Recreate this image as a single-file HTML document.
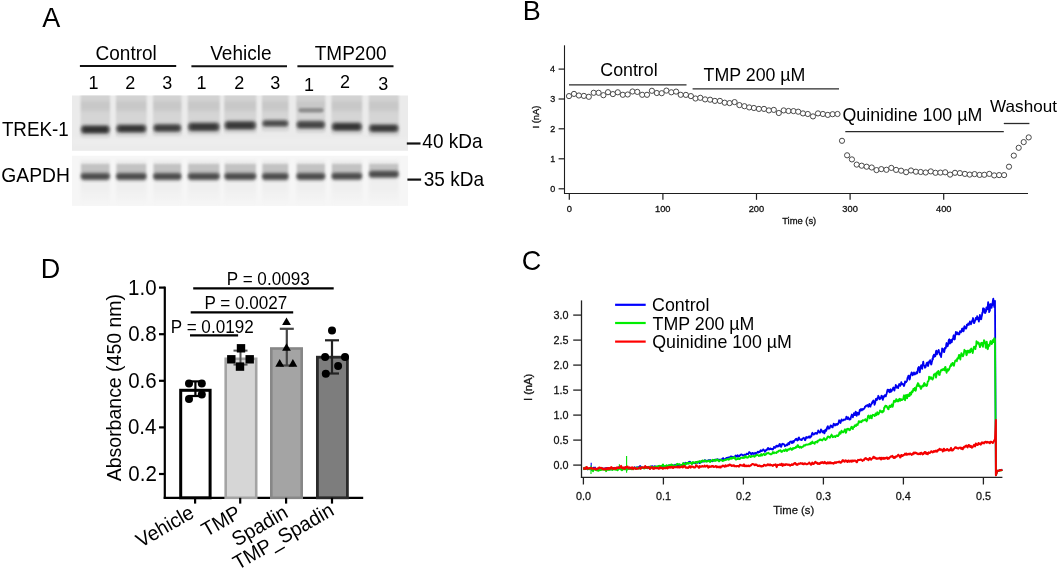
<!DOCTYPE html>
<html><head><meta charset="utf-8"><style>
html,body{margin:0;padding:0;background:#fff;}
svg{display:block;font-family:"Liberation Sans",sans-serif;will-change:transform;}
</style></head><body>
<svg width="1059" height="570" viewBox="0 0 1059 570">
<rect width="1059" height="570" fill="#fff"/>
<text transform="translate(42.25,27.00) scale(1,1.04)" font-size="27" fill="#000" >A</text>
<text transform="translate(522.79,20.10) scale(1,1.04)" font-size="27" fill="#000" >B</text>
<text transform="translate(521.83,270.00) scale(1,1.04)" font-size="27" fill="#000" >C</text>
<text transform="translate(40.79,278.00) scale(1,1.04)" font-size="27" fill="#000" >D</text>
<text transform="translate(95.54,60.20) scale(1,1.04)" font-size="19" fill="#000" >Control</text>
<text transform="translate(210.22,59.60) scale(1,1.04)" font-size="19" fill="#000" >Vehicle</text>
<text transform="translate(314.77,59.60) scale(1,1.04)" font-size="19" fill="#000" >TMP200</text>
<line x1="79.90" y1="66.00" x2="176.20" y2="66.00" stroke="#111" stroke-width="2" stroke-linecap="butt"/>
<line x1="191.40" y1="66.20" x2="287.00" y2="66.20" stroke="#111" stroke-width="2" stroke-linecap="butt"/>
<line x1="297.40" y1="66.20" x2="393.50" y2="66.20" stroke="#111" stroke-width="2" stroke-linecap="butt"/>
<text transform="translate(88.55,88.50) scale(1,1.04)" font-size="18" fill="#000" >1</text>
<text transform="translate(125.29,88.50) scale(1,1.04)" font-size="18" fill="#000" >2</text>
<text transform="translate(162.25,88.50) scale(1,1.04)" font-size="18" fill="#000" >3</text>
<text transform="translate(196.55,89.40) scale(1,1.04)" font-size="18" fill="#000" >1</text>
<text transform="translate(234.19,89.40) scale(1,1.04)" font-size="18" fill="#000" >2</text>
<text transform="translate(270.15,89.40) scale(1,1.04)" font-size="18" fill="#000" >3</text>
<text transform="translate(303.95,90.70) scale(1,1.04)" font-size="18" fill="#000" >1</text>
<text transform="translate(340.09,88.40) scale(1,1.04)" font-size="18" fill="#000" >2</text>
<text transform="translate(378.25,90.00) scale(1,1.04)" font-size="18" fill="#000" >3</text>
<text transform="translate(1.88,136.10) scale(1,1.04)" font-size="18.8" fill="#000" >TREK-1</text>
<text transform="translate(1.33,182.40) scale(1,1.04)" font-size="19.3" fill="#000" >GAPDH</text>
<text transform="translate(422.36,148.20) scale(1,1.04)" font-size="19.0" fill="#000" >40 kDa</text>
<text transform="translate(423.78,186.00) scale(1,1.04)" font-size="19.0" fill="#000" >35 kDa</text>
<defs><filter id="b1" x="-20%" y="-50%" width="140%" height="200%"><feGaussianBlur stdDeviation="1.35"/></filter><filter id="b2" x="-20%" y="-50%" width="140%" height="200%"><feGaussianBlur stdDeviation="1.8"/></filter><filter id="b3" x="-20%" y="-50%" width="140%" height="200%"><feGaussianBlur stdDeviation="0.8"/></filter><linearGradient id="lgU" gradientUnits="userSpaceOnUse" x1="0" y1="95" x2="0" y2="137"><stop offset="0" stop-color="#d4d4d4"/><stop offset="0.1" stop-color="#d2d2d2"/><stop offset="0.2" stop-color="#c8c8c8"/><stop offset="0.33" stop-color="#c9c9c9"/><stop offset="0.43" stop-color="#d4d4d4"/><stop offset="0.7" stop-color="#d6d6d6"/><stop offset="1" stop-color="#d2d2d2"/></linearGradient><linearGradient id="lgL" x1="0" y1="0" x2="0" y2="1"><stop offset="0" stop-color="#ededed"/><stop offset="0.6" stop-color="#efefef"/><stop offset="1" stop-color="#f6f6f6"/></linearGradient><clipPath id="cu"><rect x="72" y="95.5" width="336" height="55.3"/></clipPath><clipPath id="cl"><rect x="72" y="155.8" width="336" height="50"/></clipPath></defs>
<rect x="72" y="95.5" width="336" height="55.3" fill="#ebebeb"/>
<rect x="72" y="138" width="336" height="7" fill="#ededed" filter="url(#b2)" clip-path="url(#cu)"/>
<rect x="72" y="155.8" width="336" height="50" fill="#f6f6f6"/>
<defs><linearGradient id="bg0" x1="0" y1="0" x2="1" y2="0"><stop offset="0" stop-color="#5a5a5a"/><stop offset="0.12" stop-color="#303030"/><stop offset="0.88" stop-color="#303030"/><stop offset="1" stop-color="#5a5a5a"/></linearGradient><linearGradient id="bg1" x1="0" y1="0" x2="1" y2="0"><stop offset="0" stop-color="#5a5a5a"/><stop offset="0.12" stop-color="#363636"/><stop offset="0.88" stop-color="#363636"/><stop offset="1" stop-color="#5a5a5a"/></linearGradient><linearGradient id="bg2" x1="0" y1="0" x2="1" y2="0"><stop offset="0" stop-color="#5a5a5a"/><stop offset="0.12" stop-color="#3c3c3c"/><stop offset="0.88" stop-color="#3c3c3c"/><stop offset="1" stop-color="#5a5a5a"/></linearGradient><linearGradient id="bg3" x1="0" y1="0" x2="1" y2="0"><stop offset="0" stop-color="#5a5a5a"/><stop offset="0.12" stop-color="#383838"/><stop offset="0.88" stop-color="#383838"/><stop offset="1" stop-color="#5a5a5a"/></linearGradient><linearGradient id="bg4" x1="0" y1="0" x2="1" y2="0"><stop offset="0" stop-color="#5a5a5a"/><stop offset="0.12" stop-color="#383838"/><stop offset="0.88" stop-color="#383838"/><stop offset="1" stop-color="#5a5a5a"/></linearGradient><linearGradient id="bg5" x1="0" y1="0" x2="1" y2="0"><stop offset="0" stop-color="#5a5a5a"/><stop offset="0.12" stop-color="#4a4a4a"/><stop offset="0.88" stop-color="#4a4a4a"/><stop offset="1" stop-color="#5a5a5a"/></linearGradient><linearGradient id="bg6" x1="0" y1="0" x2="1" y2="0"><stop offset="0" stop-color="#5a5a5a"/><stop offset="0.12" stop-color="#444444"/><stop offset="0.88" stop-color="#444444"/><stop offset="1" stop-color="#5a5a5a"/></linearGradient><linearGradient id="bg7" x1="0" y1="0" x2="1" y2="0"><stop offset="0" stop-color="#5a5a5a"/><stop offset="0.12" stop-color="#343434"/><stop offset="0.88" stop-color="#343434"/><stop offset="1" stop-color="#5a5a5a"/></linearGradient><linearGradient id="bg8" x1="0" y1="0" x2="1" y2="0"><stop offset="0" stop-color="#5a5a5a"/><stop offset="0.12" stop-color="#383838"/><stop offset="0.88" stop-color="#383838"/><stop offset="1" stop-color="#5a5a5a"/></linearGradient></defs>
<g clip-path="url(#cu)">
<rect x="80.6" y="93" width="29.4" height="43.6" fill="url(#lgU)" filter="url(#b3)"/>
<rect x="81.6" y="131.6" width="27.4" height="6" fill="#dadada" filter="url(#b2)"/>
<rect x="116.0" y="93" width="30.6" height="42.6" fill="url(#lgU)" filter="url(#b3)"/>
<rect x="117.0" y="130.6" width="28.6" height="6" fill="#dadada" filter="url(#b2)"/>
<rect x="153.1" y="93" width="28.4" height="42.0" fill="url(#lgU)" filter="url(#b3)"/>
<rect x="154.1" y="130.0" width="26.4" height="6" fill="#dadada" filter="url(#b2)"/>
<rect x="187.8" y="93" width="32.0" height="40.9" fill="url(#lgU)" filter="url(#b3)"/>
<rect x="188.8" y="128.9" width="30.0" height="6" fill="#dadada" filter="url(#b2)"/>
<rect x="224.3" y="93" width="32.0" height="39.4" fill="url(#lgU)" filter="url(#b3)"/>
<rect x="225.3" y="127.4" width="30.0" height="6" fill="#dadada" filter="url(#b2)"/>
<rect x="262.0" y="93" width="26.6" height="37.4" fill="url(#lgU)" filter="url(#b3)"/>
<rect x="263.0" y="125.4" width="24.6" height="6" fill="#dadada" filter="url(#b2)"/>
<rect x="296.3" y="93" width="29.0" height="38.8" fill="url(#lgU)" filter="url(#b3)"/>
<rect x="297.3" y="126.8" width="27.0" height="6" fill="#dadada" filter="url(#b2)"/>
<rect x="331.5" y="93" width="30.7" height="40.7" fill="url(#lgU)" filter="url(#b3)"/>
<rect x="332.5" y="128.7" width="28.7" height="6" fill="#dadada" filter="url(#b2)"/>
<rect x="368.8" y="93" width="30.0" height="42.2" fill="url(#lgU)" filter="url(#b3)"/>
<rect x="369.8" y="130.2" width="28.0" height="6" fill="#dadada" filter="url(#b2)"/>
<rect x="298.5" y="108.0" width="25" height="4.6" rx="2.3" fill="#8e8e8e" filter="url(#b3)"/>
<rect x="80.8" y="124.6" width="29.0" height="10.0" rx="4" fill="#8a8a8a" opacity="0.55" filter="url(#b2)"/>
<rect x="81.2" y="126.1" width="28.2" height="7.0" rx="3" fill="url(#bg0)" filter="url(#b1)"/>
<rect x="116.2" y="123.7" width="30.2" height="9.8" rx="4" fill="#8a8a8a" opacity="0.55" filter="url(#b2)"/>
<rect x="116.6" y="125.2" width="29.4" height="6.8" rx="3" fill="url(#bg1)" filter="url(#b1)"/>
<rect x="153.3" y="123.3" width="28.0" height="9.4" rx="4" fill="#8a8a8a" opacity="0.55" filter="url(#b2)"/>
<rect x="153.7" y="124.8" width="27.2" height="6.4" rx="3" fill="url(#bg2)" filter="url(#b1)"/>
<rect x="188.0" y="121.8" width="31.6" height="10.2" rx="4" fill="#8a8a8a" opacity="0.55" filter="url(#b2)"/>
<rect x="188.4" y="123.3" width="30.8" height="7.2" rx="3" fill="url(#bg3)" filter="url(#b1)"/>
<rect x="224.5" y="120.3" width="31.6" height="10.2" rx="4" fill="#8a8a8a" opacity="0.55" filter="url(#b2)"/>
<rect x="224.9" y="121.8" width="30.8" height="7.2" rx="3" fill="url(#bg4)" filter="url(#b1)"/>
<rect x="262.2" y="119.2" width="26.2" height="8.4" rx="4" fill="#8a8a8a" opacity="0.55" filter="url(#b2)"/>
<rect x="262.6" y="120.7" width="25.4" height="5.4" rx="3" fill="url(#bg5)" filter="url(#b1)"/>
<rect x="296.5" y="120.1" width="28.6" height="9.4" rx="4" fill="#8a8a8a" opacity="0.55" filter="url(#b2)"/>
<rect x="296.9" y="121.6" width="27.8" height="6.4" rx="3" fill="url(#bg6)" filter="url(#b1)"/>
<rect x="331.7" y="121.7" width="30.3" height="10.0" rx="4" fill="#8a8a8a" opacity="0.55" filter="url(#b2)"/>
<rect x="332.1" y="123.2" width="29.5" height="7.0" rx="3" fill="url(#bg7)" filter="url(#b1)"/>
<rect x="369.0" y="123.4" width="29.6" height="9.6" rx="4" fill="#8a8a8a" opacity="0.55" filter="url(#b2)"/>
<rect x="369.4" y="124.9" width="28.8" height="6.6" rx="3" fill="url(#bg8)" filter="url(#b1)"/>
</g>
<g clip-path="url(#cl)">
<rect x="80.6" y="160" width="29.4" height="46" fill="url(#lgL)" filter="url(#b2)"/>
<rect x="81.1" y="163.8" width="28.4" height="12.6" fill="#c3c3c3" filter="url(#b3)"/>
<rect x="116.0" y="160" width="30.6" height="46" fill="url(#lgL)" filter="url(#b2)"/>
<rect x="116.5" y="163.8" width="29.6" height="12.8" fill="#c3c3c3" filter="url(#b3)"/>
<rect x="153.1" y="160" width="28.4" height="46" fill="url(#lgL)" filter="url(#b2)"/>
<rect x="153.6" y="163.8" width="27.4" height="12.8" fill="#c3c3c3" filter="url(#b3)"/>
<rect x="187.8" y="160" width="32.0" height="46" fill="url(#lgL)" filter="url(#b2)"/>
<rect x="188.3" y="163.8" width="31.0" height="12.6" fill="#c3c3c3" filter="url(#b3)"/>
<rect x="224.3" y="160" width="32.0" height="46" fill="url(#lgL)" filter="url(#b2)"/>
<rect x="224.8" y="163.8" width="31.0" height="12.6" fill="#c3c3c3" filter="url(#b3)"/>
<rect x="262.0" y="160" width="26.6" height="46" fill="url(#lgL)" filter="url(#b2)"/>
<rect x="262.5" y="163.8" width="25.6" height="12.8" fill="#c3c3c3" filter="url(#b3)"/>
<rect x="296.3" y="160" width="29.0" height="46" fill="url(#lgL)" filter="url(#b2)"/>
<rect x="296.8" y="163.8" width="28.0" height="12.6" fill="#c3c3c3" filter="url(#b3)"/>
<rect x="331.5" y="160" width="30.7" height="46" fill="url(#lgL)" filter="url(#b2)"/>
<rect x="332.0" y="163.8" width="29.7" height="12.4" fill="#c3c3c3" filter="url(#b3)"/>
<rect x="368.8" y="160" width="30.0" height="46" fill="url(#lgL)" filter="url(#b2)"/>
<rect x="369.3" y="163.8" width="29.0" height="10.4" fill="#c3c3c3" filter="url(#b3)"/>
<rect x="80.8" y="172.1" width="29.0" height="8.6" rx="3.5" fill="#8a8a8a" opacity="0.45" filter="url(#b2)"/>
<rect x="81.0" y="173.4" width="28.6" height="6.0" rx="2.8" fill="#4c4c4c" filter="url(#b1)"/>
<rect x="116.2" y="172.3" width="30.2" height="8.6" rx="3.5" fill="#8a8a8a" opacity="0.45" filter="url(#b2)"/>
<rect x="116.4" y="173.6" width="29.8" height="6.0" rx="2.8" fill="#4c4c4c" filter="url(#b1)"/>
<rect x="153.3" y="172.3" width="28.0" height="8.6" rx="3.5" fill="#8a8a8a" opacity="0.45" filter="url(#b2)"/>
<rect x="153.5" y="173.6" width="27.6" height="6.0" rx="2.8" fill="#4c4c4c" filter="url(#b1)"/>
<rect x="188.0" y="172.1" width="31.6" height="8.6" rx="3.5" fill="#8a8a8a" opacity="0.45" filter="url(#b2)"/>
<rect x="188.2" y="173.4" width="31.2" height="6.0" rx="2.8" fill="#4c4c4c" filter="url(#b1)"/>
<rect x="224.5" y="172.1" width="31.6" height="8.6" rx="3.5" fill="#8a8a8a" opacity="0.45" filter="url(#b2)"/>
<rect x="224.7" y="173.4" width="31.2" height="6.0" rx="2.8" fill="#4c4c4c" filter="url(#b1)"/>
<rect x="262.2" y="172.3" width="26.2" height="8.6" rx="3.5" fill="#8a8a8a" opacity="0.45" filter="url(#b2)"/>
<rect x="262.4" y="173.6" width="25.8" height="6.0" rx="2.8" fill="#4c4c4c" filter="url(#b1)"/>
<rect x="296.5" y="172.1" width="28.6" height="8.6" rx="3.5" fill="#8a8a8a" opacity="0.45" filter="url(#b2)"/>
<rect x="296.7" y="173.4" width="28.2" height="6.0" rx="2.8" fill="#4c4c4c" filter="url(#b1)"/>
<rect x="331.7" y="171.9" width="30.3" height="8.6" rx="3.5" fill="#8a8a8a" opacity="0.45" filter="url(#b2)"/>
<rect x="331.9" y="173.2" width="29.9" height="6.0" rx="2.8" fill="#4c4c4c" filter="url(#b1)"/>
<rect x="369.0" y="169.9" width="29.6" height="8.6" rx="3.5" fill="#8a8a8a" opacity="0.45" filter="url(#b2)"/>
<rect x="369.2" y="171.2" width="29.2" height="6.0" rx="2.8" fill="#4c4c4c" filter="url(#b1)"/>
</g>
<line x1="406.80" y1="143.50" x2="420.50" y2="143.50" stroke="#111" stroke-width="2.2" stroke-linecap="butt"/>
<line x1="407.40" y1="179.60" x2="421.10" y2="179.60" stroke="#111" stroke-width="2.2" stroke-linecap="butt"/>
<line x1="564.50" y1="45.30" x2="564.50" y2="194.00" stroke="#1e1e1e" stroke-width="1.1" stroke-linecap="butt"/>
<line x1="564.00" y1="193.50" x2="1028.00" y2="193.50" stroke="#1e1e1e" stroke-width="1.1" stroke-linecap="butt"/>
<line x1="558.60" y1="188.80" x2="564.50" y2="188.80" stroke="#1e1e1e" stroke-width="1.2" stroke-linecap="butt"/>
<text transform="translate(550.15,192.00) scale(1,1.04)" font-size="9.0" fill="#111" stroke="#111" stroke-width="0.3">0</text>
<line x1="558.60" y1="158.80" x2="564.50" y2="158.80" stroke="#1e1e1e" stroke-width="1.2" stroke-linecap="butt"/>
<text transform="translate(550.23,162.00) scale(1,1.04)" font-size="9.0" fill="#111" stroke="#111" stroke-width="0.3">1</text>
<line x1="558.60" y1="128.80" x2="564.50" y2="128.80" stroke="#1e1e1e" stroke-width="1.2" stroke-linecap="butt"/>
<text transform="translate(550.25,132.00) scale(1,1.04)" font-size="9.0" fill="#111" stroke="#111" stroke-width="0.3">2</text>
<line x1="558.60" y1="99.00" x2="564.50" y2="99.00" stroke="#1e1e1e" stroke-width="1.2" stroke-linecap="butt"/>
<text transform="translate(550.19,102.20) scale(1,1.04)" font-size="9.0" fill="#111" stroke="#111" stroke-width="0.3">3</text>
<line x1="558.60" y1="69.10" x2="564.50" y2="69.10" stroke="#1e1e1e" stroke-width="1.2" stroke-linecap="butt"/>
<text transform="translate(550.06,72.30) scale(1,1.04)" font-size="9.0" fill="#111" stroke="#111" stroke-width="0.3">4</text>
<line x1="569.30" y1="193.50" x2="569.30" y2="199.80" stroke="#1e1e1e" stroke-width="1.2" stroke-linecap="butt"/>
<text transform="translate(566.71,212.30) scale(1,1.04)" font-size="9.3" fill="#111" stroke="#111" stroke-width="0.3">0</text>
<line x1="662.90" y1="193.50" x2="662.90" y2="199.80" stroke="#1e1e1e" stroke-width="1.2" stroke-linecap="butt"/>
<text transform="translate(654.97,212.30) scale(1,1.04)" font-size="9.3" fill="#111" stroke="#111" stroke-width="0.3">100</text>
<line x1="756.50" y1="193.50" x2="756.50" y2="199.80" stroke="#1e1e1e" stroke-width="1.2" stroke-linecap="butt"/>
<text transform="translate(748.69,212.30) scale(1,1.04)" font-size="9.3" fill="#111" stroke="#111" stroke-width="0.3">200</text>
<line x1="850.10" y1="193.50" x2="850.10" y2="199.80" stroke="#1e1e1e" stroke-width="1.2" stroke-linecap="butt"/>
<text transform="translate(842.35,212.30) scale(1,1.04)" font-size="9.3" fill="#111" stroke="#111" stroke-width="0.3">300</text>
<line x1="943.70" y1="193.50" x2="943.70" y2="199.80" stroke="#1e1e1e" stroke-width="1.2" stroke-linecap="butt"/>
<text transform="translate(936.02,212.30) scale(1,1.04)" font-size="9.3" fill="#111" stroke="#111" stroke-width="0.3">400</text>
<text transform="translate(782.16,223.60) scale(1,1.04)" font-size="9.4" fill="#111" stroke="#111" stroke-width="0.3">Time (s)</text>
<text transform="translate(539.4,117) rotate(-90) scale(1,1.04)" text-anchor="middle" font-size="9.4" fill="#111" stroke="#111" stroke-width="0.3">I (nA)</text>
<line x1="569.00" y1="84.90" x2="686.50" y2="84.90" stroke="#2a2a2a" stroke-width="1.3" stroke-linecap="butt"/>
<line x1="692.60" y1="88.90" x2="839.00" y2="88.90" stroke="#2a2a2a" stroke-width="1.3" stroke-linecap="butt"/>
<line x1="845.30" y1="131.60" x2="1003.80" y2="131.60" stroke="#2a2a2a" stroke-width="1.3" stroke-linecap="butt"/>
<line x1="1003.80" y1="123.50" x2="1029.40" y2="123.50" stroke="#2a2a2a" stroke-width="1.3" stroke-linecap="butt"/>
<text transform="translate(600.30,75.90) scale(1,1.04)" font-size="17.8" fill="#000" >Control</text>
<text transform="translate(703.60,81.00) scale(1,1.04)" font-size="17.8" fill="#000" >TMP 200 µM</text>
<text transform="translate(842.46,120.50) scale(1,1.04)" font-size="17.8" fill="#000" >Quinidine 100 µM</text>
<text transform="translate(990.12,112.00) scale(1,0.94)" font-size="17.1" fill="#000" >Washout</text>
<g fill="#fff" stroke="#484848" stroke-width="1.0">
<circle cx="569.0" cy="96.1" r="2.6"/>
<circle cx="574.0" cy="93.9" r="2.6"/>
<circle cx="578.9" cy="95.5" r="2.6"/>
<circle cx="583.9" cy="95.9" r="2.6"/>
<circle cx="588.8" cy="96.8" r="2.6"/>
<circle cx="593.7" cy="92.8" r="2.6"/>
<circle cx="598.6" cy="92.8" r="2.6"/>
<circle cx="603.4" cy="95.2" r="2.6"/>
<circle cx="608.0" cy="92.2" r="2.6"/>
<circle cx="612.9" cy="94.1" r="2.6"/>
<circle cx="617.8" cy="92.3" r="2.6"/>
<circle cx="622.8" cy="94.8" r="2.6"/>
<circle cx="627.7" cy="94.5" r="2.6"/>
<circle cx="632.5" cy="91.5" r="2.6"/>
<circle cx="637.3" cy="91.9" r="2.6"/>
<circle cx="642.2" cy="94.8" r="2.6"/>
<circle cx="647.0" cy="94.8" r="2.6"/>
<circle cx="651.9" cy="90.8" r="2.6"/>
<circle cx="656.8" cy="93.0" r="2.6"/>
<circle cx="661.7" cy="93.2" r="2.6"/>
<circle cx="666.4" cy="90.6" r="2.6"/>
<circle cx="671.3" cy="92.3" r="2.6"/>
<circle cx="676.1" cy="91.6" r="2.6"/>
<circle cx="680.7" cy="94.8" r="2.6"/>
<circle cx="685.9" cy="94.9" r="2.6"/>
<circle cx="690.9" cy="96.1" r="2.6"/>
<circle cx="695.5" cy="98.5" r="2.6"/>
<circle cx="700.3" cy="97.8" r="2.6"/>
<circle cx="705.1" cy="99.4" r="2.6"/>
<circle cx="710.1" cy="99.7" r="2.6"/>
<circle cx="714.9" cy="100.9" r="2.6"/>
<circle cx="719.9" cy="100.9" r="2.6"/>
<circle cx="724.7" cy="102.7" r="2.6"/>
<circle cx="729.6" cy="103.1" r="2.6"/>
<circle cx="734.6" cy="102.1" r="2.6"/>
<circle cx="739.4" cy="105.1" r="2.6"/>
<circle cx="744.4" cy="106.2" r="2.6"/>
<circle cx="749.2" cy="107.4" r="2.6"/>
<circle cx="753.9" cy="108.0" r="2.6"/>
<circle cx="758.9" cy="108.9" r="2.6"/>
<circle cx="764.0" cy="108.9" r="2.6"/>
<circle cx="768.9" cy="110.4" r="2.6"/>
<circle cx="773.8" cy="109.9" r="2.6"/>
<circle cx="778.8" cy="113.0" r="2.6"/>
<circle cx="783.7" cy="110.4" r="2.6"/>
<circle cx="788.5" cy="111.0" r="2.6"/>
<circle cx="793.5" cy="111.1" r="2.6"/>
<circle cx="798.2" cy="111.7" r="2.6"/>
<circle cx="803.0" cy="113.4" r="2.6"/>
<circle cx="807.8" cy="114.0" r="2.6"/>
<circle cx="813.0" cy="116.4" r="2.6"/>
<circle cx="818.0" cy="113.4" r="2.6"/>
<circle cx="822.9" cy="114.0" r="2.6"/>
<circle cx="827.8" cy="114.9" r="2.6"/>
<circle cx="832.6" cy="114.2" r="2.6"/>
<circle cx="837.5" cy="114.0" r="2.6"/>
<circle cx="842.0" cy="140.8" r="2.6"/>
<circle cx="847.1" cy="155.3" r="2.6"/>
<circle cx="851.9" cy="159.4" r="2.6"/>
<circle cx="856.7" cy="164.6" r="2.6"/>
<circle cx="861.7" cy="165.7" r="2.6"/>
<circle cx="866.6" cy="166.7" r="2.6"/>
<circle cx="871.7" cy="167.5" r="2.6"/>
<circle cx="876.5" cy="170.1" r="2.6"/>
<circle cx="881.3" cy="169.1" r="2.6"/>
<circle cx="886.4" cy="169.8" r="2.6"/>
<circle cx="891.3" cy="167.9" r="2.6"/>
<circle cx="896.1" cy="169.9" r="2.6"/>
<circle cx="901.1" cy="170.7" r="2.6"/>
<circle cx="906.1" cy="172.2" r="2.6"/>
<circle cx="911.0" cy="170.5" r="2.6"/>
<circle cx="915.9" cy="171.7" r="2.6"/>
<circle cx="920.7" cy="172.0" r="2.6"/>
<circle cx="925.7" cy="172.5" r="2.6"/>
<circle cx="930.8" cy="171.4" r="2.6"/>
<circle cx="935.5" cy="172.8" r="2.6"/>
<circle cx="940.4" cy="172.6" r="2.6"/>
<circle cx="945.2" cy="172.3" r="2.6"/>
<circle cx="950.1" cy="174.6" r="2.6"/>
<circle cx="955.0" cy="172.8" r="2.6"/>
<circle cx="959.9" cy="173.1" r="2.6"/>
<circle cx="964.9" cy="173.9" r="2.6"/>
<circle cx="969.7" cy="174.6" r="2.6"/>
<circle cx="974.6" cy="174.1" r="2.6"/>
<circle cx="979.6" cy="174.9" r="2.6"/>
<circle cx="984.3" cy="174.8" r="2.6"/>
<circle cx="989.3" cy="173.9" r="2.6"/>
<circle cx="994.2" cy="175.4" r="2.6"/>
<circle cx="999.1" cy="175.1" r="2.6"/>
<circle cx="1004.1" cy="175.1" r="2.6"/>
<circle cx="1009.0" cy="166.7" r="2.6"/>
<circle cx="1013.8" cy="155.6" r="2.6"/>
<circle cx="1018.7" cy="147.8" r="2.6"/>
<circle cx="1023.7" cy="142.1" r="2.6"/>
<circle cx="1028.7" cy="137.4" r="2.6"/>
</g>
<line x1="581.50" y1="300.40" x2="581.50" y2="478.00" stroke="#222" stroke-width="1.3" stroke-linecap="butt"/>
<line x1="580.90" y1="477.40" x2="1002.40" y2="477.40" stroke="#222" stroke-width="1.3" stroke-linecap="butt"/>
<line x1="573.20" y1="465.10" x2="581.50" y2="465.10" stroke="#222" stroke-width="1.3" stroke-linecap="butt"/>
<text transform="translate(553.41,469.00) scale(1,1.04)" font-size="10.8" fill="#111" stroke="#111" stroke-width="0.25">0.0</text>
<line x1="573.20" y1="440.10" x2="581.50" y2="440.10" stroke="#222" stroke-width="1.3" stroke-linecap="butt"/>
<text transform="translate(553.44,444.00) scale(1,1.04)" font-size="10.8" fill="#111" stroke="#111" stroke-width="0.25">0.5</text>
<line x1="573.20" y1="415.10" x2="581.50" y2="415.10" stroke="#222" stroke-width="1.3" stroke-linecap="butt"/>
<text transform="translate(553.41,419.00) scale(1,1.04)" font-size="10.8" fill="#111" stroke="#111" stroke-width="0.25">1.0</text>
<line x1="573.20" y1="390.10" x2="581.50" y2="390.10" stroke="#222" stroke-width="1.3" stroke-linecap="butt"/>
<text transform="translate(553.44,394.00) scale(1,1.04)" font-size="10.8" fill="#111" stroke="#111" stroke-width="0.25">1.5</text>
<line x1="573.20" y1="365.10" x2="581.50" y2="365.10" stroke="#222" stroke-width="1.3" stroke-linecap="butt"/>
<text transform="translate(553.41,369.00) scale(1,1.04)" font-size="10.8" fill="#111" stroke="#111" stroke-width="0.25">2.0</text>
<line x1="573.20" y1="340.10" x2="581.50" y2="340.10" stroke="#222" stroke-width="1.3" stroke-linecap="butt"/>
<text transform="translate(553.44,344.00) scale(1,1.04)" font-size="10.8" fill="#111" stroke="#111" stroke-width="0.25">2.5</text>
<line x1="573.20" y1="315.10" x2="581.50" y2="315.10" stroke="#222" stroke-width="1.3" stroke-linecap="butt"/>
<text transform="translate(553.41,319.00) scale(1,1.04)" font-size="10.8" fill="#111" stroke="#111" stroke-width="0.25">3.0</text>
<line x1="583.40" y1="477.40" x2="583.40" y2="484.50" stroke="#222" stroke-width="1.3" stroke-linecap="butt"/>
<text transform="translate(575.89,499.80) scale(1,1.04)" font-size="10.8" fill="#111" stroke="#111" stroke-width="0.25">0.0</text>
<line x1="663.40" y1="477.40" x2="663.40" y2="484.50" stroke="#222" stroke-width="1.3" stroke-linecap="butt"/>
<text transform="translate(655.95,499.80) scale(1,1.04)" font-size="10.8" fill="#111" stroke="#111" stroke-width="0.25">0.1</text>
<line x1="743.40" y1="477.40" x2="743.40" y2="484.50" stroke="#222" stroke-width="1.3" stroke-linecap="butt"/>
<text transform="translate(735.95,499.80) scale(1,1.04)" font-size="10.8" fill="#111" stroke="#111" stroke-width="0.25">0.2</text>
<line x1="823.40" y1="477.40" x2="823.40" y2="484.50" stroke="#222" stroke-width="1.3" stroke-linecap="butt"/>
<text transform="translate(815.92,499.80) scale(1,1.04)" font-size="10.8" fill="#111" stroke="#111" stroke-width="0.25">0.3</text>
<line x1="903.40" y1="477.40" x2="903.40" y2="484.50" stroke="#222" stroke-width="1.3" stroke-linecap="butt"/>
<text transform="translate(895.84,499.80) scale(1,1.04)" font-size="10.8" fill="#111" stroke="#111" stroke-width="0.25">0.4</text>
<line x1="983.40" y1="477.40" x2="983.40" y2="484.50" stroke="#222" stroke-width="1.3" stroke-linecap="butt"/>
<text transform="translate(975.91,499.80) scale(1,1.04)" font-size="10.8" fill="#111" stroke="#111" stroke-width="0.25">0.5</text>
<text transform="translate(773.31,513.90) scale(1,1.04)" font-size="11.3" fill="#111" stroke="#111" stroke-width="0.25">Time (s)</text>
<text transform="translate(531.8,387.4) rotate(-90) scale(1,1.04)" text-anchor="middle" font-size="11.2" fill="#111" stroke="#111" stroke-width="0.3">I (nA)</text>
<line x1="615.10" y1="304.80" x2="645.70" y2="304.80" stroke="#0000ff" stroke-width="2.2" stroke-linecap="butt"/>
<line x1="615.10" y1="323.00" x2="645.70" y2="323.00" stroke="#00ee00" stroke-width="2.2" stroke-linecap="butt"/>
<line x1="615.10" y1="341.60" x2="645.70" y2="341.60" stroke="#ff0000" stroke-width="2.2" stroke-linecap="butt"/>
<text transform="translate(652.10,311.00) scale(1,1.04)" font-size="17.8" fill="#000" >Control</text>
<text transform="translate(652.60,329.50) scale(1,1.04)" font-size="17.8" fill="#000" >TMP 200 µM</text>
<text transform="translate(652.16,348.00) scale(1,1.04)" font-size="17.8" fill="#000" >Quinidine 100 µM</text>
<path d="M583.40,468.50 L583.74,468.40 L584.09,469.03 L584.43,469.04 L584.77,468.97 L585.12,468.60 L585.46,468.80 L585.80,468.81 L586.15,468.57 L586.49,468.70 L586.83,468.62 L587.18,468.86 L587.52,468.90 L587.86,469.26 L588.21,468.82 L588.55,468.75 L588.89,468.57 L589.24,468.78 L589.58,468.80 L589.92,468.77 L590.27,468.56 L590.61,468.17 L590.95,467.93 L591.30,468.63 L591.64,469.60 L591.98,470.11 L592.33,469.26 L592.67,468.56 L593.01,468.50 L593.36,467.68 L593.70,468.23 L594.04,468.36 L594.39,468.41 L594.73,467.81 L595.07,467.54 L595.42,468.42 L595.76,469.41 L596.10,469.71 L596.44,469.43 L596.79,469.30 L597.13,469.57 L597.47,469.58 L597.82,469.68 L598.16,469.59 L598.50,469.30 L598.85,468.96 L599.19,468.87 L599.53,468.48 L599.88,468.20 L600.22,467.98 L600.56,468.43 L600.91,468.67 L601.25,468.84 L601.59,468.17 L601.94,468.81 L602.28,468.30 L602.62,468.63 L602.97,468.60 L603.31,469.01 L603.65,468.98 L604.00,468.47 L604.34,468.56 L604.68,468.66 L605.03,468.84 L605.37,468.60 L605.71,468.11 L606.06,467.96 L606.40,468.34 L606.74,468.23 L607.09,468.29 L607.43,467.99 L607.77,468.42 L608.12,468.78 L608.46,468.82 L608.80,468.18 L609.15,468.42 L609.49,468.85 L609.83,469.24 L610.18,469.29 L610.52,468.60 L610.86,468.43 L611.21,468.71 L611.55,469.37 L611.89,469.28 L612.24,468.46 L612.58,468.17 L612.92,468.36 L613.27,468.55 L613.61,468.06 L613.95,467.81 L614.30,467.90 L614.64,468.10 L614.98,468.42 L615.33,468.30 L615.67,468.80 L616.01,468.74 L616.36,469.10 L616.70,468.76 L617.04,468.36 L617.39,468.53 L617.73,467.75 L618.07,467.88 L618.42,467.51 L618.76,467.25 L619.10,466.97 L619.45,467.59 L619.79,468.52 L620.13,468.14 L620.47,467.71 L620.82,467.47 L621.16,468.10 L621.50,468.38 L621.85,467.93 L622.19,467.92 L622.53,467.78 L622.88,468.32 L623.22,468.17 L623.56,468.44 L623.91,467.99 L624.25,467.65 L624.59,467.85 L624.94,468.93 L625.28,469.23 L625.62,468.15 L625.97,467.83 L626.31,468.41 L626.65,469.00 L627.00,468.83 L627.34,468.60 L627.68,468.90 L628.03,468.47 L628.37,468.41 L628.71,468.18 L629.06,468.37 L629.40,468.62 L629.74,468.70 L630.09,468.78 L630.43,468.43 L630.77,468.81 L631.12,468.91 L631.46,468.41 L631.80,468.02 L632.15,467.82 L632.49,467.96 L632.83,468.13 L633.18,468.07 L633.52,467.91 L633.86,467.59 L634.21,467.63 L634.55,467.25 L634.89,467.54 L635.24,467.61 L635.58,468.18 L635.92,468.18 L636.27,467.30 L636.61,467.39 L636.95,467.26 L637.30,468.38 L637.64,467.88 L637.98,467.70 L638.33,467.10 L638.67,467.26 L639.01,467.46 L639.36,466.98 L639.70,466.51 L640.04,466.02 L640.39,466.31 L640.73,466.73 L641.07,467.41 L641.42,467.52 L641.76,467.28 L642.10,467.33 L642.45,467.33 L642.79,467.93 L643.13,467.70 L643.48,467.89 L643.82,467.79 L644.16,467.70 L644.50,467.18 L644.85,466.78 L645.19,466.93 L645.53,467.64 L645.88,466.91 L646.22,466.89 L646.56,466.86 L646.91,468.05 L647.25,468.13 L647.59,468.34 L647.94,468.05 L648.28,468.19 L648.62,467.05 L648.97,466.81 L649.31,467.29 L649.65,467.80 L650.00,468.61 L650.34,467.36 L650.68,467.07 L651.03,466.33 L651.37,467.13 L651.71,466.59 L652.06,466.24 L652.40,466.12 L652.74,466.64 L653.09,467.40 L653.43,466.93 L653.77,467.32 L654.12,466.41 L654.46,466.62 L654.80,466.25 L655.15,466.60 L655.49,466.53 L655.83,466.57 L656.18,466.83 L656.52,466.64 L656.86,466.87 L657.21,466.87 L657.55,466.73 L657.89,466.46 L658.24,466.28 L658.58,466.31 L658.92,465.96 L659.27,466.35 L659.61,466.17 L659.95,466.55 L660.30,466.66 L660.64,467.09 L660.98,466.75 L661.33,466.93 L661.67,466.77 L662.01,466.90 L662.36,466.41 L662.70,466.23 L663.04,466.94 L663.39,466.92 L663.73,466.68 L664.07,466.48 L664.42,466.34 L664.76,466.50 L665.10,466.46 L665.45,466.78 L665.79,466.69 L666.13,466.22 L666.48,466.93 L666.82,466.21 L667.16,466.21 L667.51,466.09 L667.85,466.30 L668.19,466.22 L668.53,465.46 L668.88,465.79 L669.22,465.56 L669.56,465.46 L669.91,465.57 L670.25,465.28 L670.59,465.48 L670.94,465.44 L671.28,465.60 L671.62,465.33 L671.97,465.05 L672.31,465.16 L672.65,465.07 L673.00,465.60 L673.34,465.78 L673.68,465.92 L674.03,465.72 L674.37,465.38 L674.71,465.46 L675.06,464.67 L675.40,465.03 L675.74,465.23 L676.09,465.43 L676.43,465.91 L676.77,464.77 L677.12,465.13 L677.46,464.46 L677.80,465.01 L678.15,464.84 L678.49,465.14 L678.83,465.27 L679.18,464.92 L679.52,464.43 L679.86,464.79 L680.21,465.01 L680.55,465.18 L680.89,465.08 L681.24,465.04 L681.58,464.94 L681.92,465.35 L682.27,465.40 L682.61,465.27 L682.95,464.36 L683.30,463.98 L683.64,463.24 L683.98,463.45 L684.33,463.48 L684.67,463.91 L685.01,463.55 L685.36,463.00 L685.70,462.73 L686.04,463.15 L686.39,463.71 L686.73,463.64 L687.07,463.61 L687.42,463.36 L687.76,463.10 L688.10,462.50 L688.45,462.38 L688.79,461.90 L689.13,461.95 L689.48,461.95 L689.82,461.61 L690.16,462.04 L690.51,462.19 L690.85,462.77 L691.19,462.67 L691.54,463.02 L691.88,463.17 L692.22,463.78 L692.56,462.76 L692.91,462.79 L693.25,462.48 L693.59,463.20 L693.94,463.22 L694.28,463.18 L694.62,463.13 L694.97,463.34 L695.31,463.23 L695.65,463.03 L696.00,462.45 L696.34,461.96 L696.68,461.80 L697.03,461.88 L697.37,462.80 L697.71,462.55 L698.06,462.69 L698.40,462.05 L698.74,461.64 L699.09,462.34 L699.43,462.41 L699.77,463.15 L700.12,462.08 L700.46,462.35 L700.80,461.95 L701.15,462.15 L701.49,461.31 L701.83,460.95 L702.18,461.38 L702.52,461.72 L702.86,461.26 L703.21,461.04 L703.55,461.41 L703.89,461.52 L704.24,461.10 L704.58,460.21 L704.92,460.73 L705.27,460.51 L705.61,461.26 L705.95,460.89 L706.30,461.28 L706.64,460.83 L706.98,460.61 L707.33,460.55 L707.67,460.75 L708.01,460.98 L708.36,460.28 L708.70,460.12 L709.04,460.67 L709.39,461.06 L709.73,460.92 L710.07,459.83 L710.42,460.58 L710.76,460.88 L711.10,461.11 L711.45,461.03 L711.79,461.22 L712.13,461.36 L712.48,460.41 L712.82,460.46 L713.16,460.44 L713.51,460.63 L713.85,459.84 L714.19,459.98 L714.54,459.71 L714.88,460.29 L715.22,460.05 L715.57,460.44 L715.91,459.81 L716.25,459.44 L716.59,459.60 L716.94,459.74 L717.28,459.58 L717.62,459.24 L717.97,459.41 L718.31,459.71 L718.65,460.40 L719.00,460.19 L719.34,460.02 L719.68,459.71 L720.03,459.58 L720.37,459.99 L720.71,459.79 L721.06,460.38 L721.40,459.26 L721.74,459.51 L722.09,459.14 L722.43,459.36 L722.77,458.38 L723.12,458.06 L723.46,458.91 L723.80,459.85 L724.15,459.83 L724.49,459.93 L724.83,459.15 L725.18,459.67 L725.52,458.83 L725.86,458.36 L726.21,458.04 L726.55,457.97 L726.89,458.23 L727.24,457.62 L727.58,457.88 L727.92,457.93 L728.27,457.68 L728.61,457.43 L728.95,457.36 L729.30,457.24 L729.64,457.50 L729.98,457.08 L730.33,457.37 L730.67,456.55 L731.01,456.86 L731.36,456.50 L731.70,456.75 L732.04,456.61 L732.39,457.38 L732.73,457.26 L733.07,456.92 L733.42,456.91 L733.76,457.52 L734.10,457.59 L734.45,457.38 L734.79,456.72 L735.13,456.13 L735.48,455.54 L735.82,455.97 L736.16,456.55 L736.51,456.72 L736.85,456.37 L737.19,455.38 L737.54,455.12 L737.88,455.47 L738.22,456.04 L738.57,456.43 L738.91,456.43 L739.25,456.35 L739.60,456.04 L739.94,455.16 L740.28,455.20 L740.63,454.69 L740.97,454.54 L741.31,454.46 L741.65,454.35 L742.00,454.76 L742.34,454.87 L742.68,455.46 L743.03,455.63 L743.37,455.45 L743.71,455.42 L744.06,455.09 L744.40,454.65 L744.74,454.76 L745.09,454.78 L745.43,455.33 L745.77,454.93 L746.12,454.57 L746.46,453.75 L746.80,453.57 L747.15,453.72 L747.49,454.02 L747.83,454.20 L748.18,454.23 L748.52,453.30 L748.86,452.88 L749.21,452.00 L749.55,452.61 L749.89,452.38 L750.24,452.93 L750.58,452.95 L750.92,453.70 L751.27,454.69 L751.61,454.60 L751.95,453.75 L752.30,453.01 L752.64,452.82 L752.98,453.40 L753.33,453.20 L753.67,453.95 L754.01,453.70 L754.36,453.79 L754.70,453.54 L755.04,452.81 L755.39,453.54 L755.73,453.13 L756.07,454.25 L756.42,453.34 L756.76,453.11 L757.10,452.35 L757.45,452.39 L757.79,451.71 L758.13,452.20 L758.48,452.53 L758.82,451.84 L759.16,451.69 L759.51,451.65 L759.85,452.12 L760.19,450.95 L760.54,450.37 L760.88,450.19 L761.22,451.09 L761.57,450.64 L761.91,450.72 L762.25,450.86 L762.60,450.54 L762.94,449.81 L763.28,449.33 L763.63,449.80 L763.97,450.02 L764.31,450.21 L764.66,451.03 L765.00,451.80 L765.34,451.39 L765.68,450.84 L766.03,449.93 L766.37,449.70 L766.71,450.00 L767.06,449.94 L767.40,449.19 L767.74,448.28 L768.09,447.97 L768.43,448.70 L768.77,448.87 L769.12,449.56 L769.46,448.99 L769.80,449.27 L770.15,448.43 L770.49,448.41 L770.83,448.85 L771.18,449.29 L771.52,448.99 L771.86,448.80 L772.21,449.00 L772.55,449.48 L772.89,449.51 L773.24,448.87 L773.58,448.10 L773.92,446.88 L774.27,447.09 L774.61,447.67 L774.95,447.76 L775.30,447.83 L775.64,447.26 L775.98,446.65 L776.33,445.64 L776.67,446.18 L777.01,446.46 L777.36,446.65 L777.70,445.59 L778.04,445.60 L778.39,446.16 L778.73,446.35 L779.07,445.56 L779.42,444.20 L779.76,443.89 L780.10,444.30 L780.45,445.43 L780.79,446.35 L781.13,446.91 L781.48,446.08 L781.82,444.92 L782.16,443.89 L782.51,444.09 L782.85,443.71 L783.19,444.10 L783.54,444.22 L783.88,444.31 L784.22,444.44 L784.57,445.32 L784.91,446.23 L785.25,445.62 L785.60,445.64 L785.94,445.23 L786.28,445.39 L786.63,444.49 L786.97,445.02 L787.31,445.23 L787.66,444.79 L788.00,443.64 L788.34,443.03 L788.69,443.58 L789.03,444.31 L789.37,443.98 L789.71,442.21 L790.06,441.69 L790.40,441.70 L790.74,441.50 L791.09,441.40 L791.43,441.62 L791.77,442.93 L792.12,443.04 L792.46,441.70 L792.80,441.53 L793.15,440.96 L793.49,442.49 L793.83,441.82 L794.18,441.18 L794.52,440.57 L794.86,440.13 L795.21,439.91 L795.55,439.38 L795.89,438.91 L796.24,438.72 L796.58,438.93 L796.92,440.05 L797.27,440.61 L797.61,440.29 L797.95,440.23 L798.30,438.48 L798.64,437.53 L798.98,437.46 L799.33,438.87 L799.67,438.89 L800.01,439.59 L800.36,439.59 L800.70,439.82 L801.04,439.35 L801.39,439.50 L801.73,440.18 L802.07,439.23 L802.42,438.79 L802.76,438.38 L803.10,438.46 L803.45,438.15 L803.79,437.77 L804.13,438.45 L804.48,438.88 L804.82,440.13 L805.16,440.27 L805.51,439.66 L805.85,438.12 L806.19,437.14 L806.54,436.93 L806.88,437.68 L807.22,437.82 L807.57,437.57 L807.91,437.13 L808.25,437.54 L808.60,437.22 L808.94,436.43 L809.28,436.55 L809.63,436.35 L809.97,437.73 L810.31,436.44 L810.66,436.75 L811.00,436.45 L811.34,436.53 L811.69,434.80 L812.03,433.53 L812.37,432.80 L812.72,433.33 L813.06,434.31 L813.40,434.45 L813.74,434.67 L814.09,434.31 L814.43,434.06 L814.77,433.48 L815.12,432.99 L815.46,432.96 L815.80,433.50 L816.15,432.92 L816.49,433.77 L816.83,432.87 L817.18,433.69 L817.52,432.27 L817.86,432.14 L818.21,430.39 L818.55,431.50 L818.89,431.73 L819.24,431.66 L819.58,432.65 L819.92,432.66 L820.27,432.46 L820.61,430.72 L820.95,429.38 L821.30,430.31 L821.64,430.26 L821.98,431.06 L822.33,431.39 L822.67,432.36 L823.01,432.18 L823.36,431.57 L823.70,430.86 L824.04,432.38 L824.39,433.33 L824.73,432.76 L825.07,430.54 L825.42,429.69 L825.76,429.63 L826.10,430.94 L826.45,429.45 L826.79,429.70 L827.13,427.12 L827.48,427.20 L827.82,426.19 L828.16,427.22 L828.51,427.91 L828.85,428.73 L829.19,428.38 L829.54,428.42 L829.88,427.15 L830.22,426.68 L830.57,425.42 L830.91,425.66 L831.25,425.61 L831.60,426.77 L831.94,426.69 L832.28,427.30 L832.63,427.43 L832.97,426.02 L833.31,425.18 L833.66,423.71 L834.00,423.95 L834.34,424.24 L834.69,424.90 L835.03,425.51 L835.37,425.22 L835.72,424.25 L836.06,424.18 L836.40,424.00 L836.75,424.91 L837.09,424.13 L837.43,424.80 L837.77,423.66 L838.12,424.11 L838.46,422.91 L838.80,421.65 L839.15,420.26 L839.49,420.65 L839.83,421.55 L840.18,422.37 L840.52,422.96 L840.86,421.85 L841.21,420.68 L841.55,419.38 L841.89,419.85 L842.24,420.59 L842.58,420.54 L842.92,420.60 L843.27,420.29 L843.61,420.10 L843.95,419.42 L844.30,419.82 L844.64,419.67 L844.98,419.59 L845.33,419.68 L845.67,419.15 L846.01,418.39 L846.36,416.56 L846.70,417.39 L847.04,418.52 L847.39,419.09 L847.73,417.77 L848.07,417.20 L848.42,418.27 L848.76,418.70 L849.10,419.41 L849.45,418.60 L849.79,419.67 L850.13,418.56 L850.48,419.26 L850.82,417.69 L851.16,416.41 L851.51,415.46 L851.85,414.53 L852.19,415.80 L852.54,415.93 L852.88,417.32 L853.22,415.91 L853.57,415.30 L853.91,413.13 L854.25,414.29 L854.60,414.12 L854.94,415.12 L855.28,413.19 L855.63,411.66 L855.97,412.10 L856.31,413.69 L856.66,415.91 L857.00,414.27 L857.34,413.64 L857.69,412.68 L858.03,413.05 L858.37,414.37 L858.72,414.69 L859.06,414.14 L859.40,411.96 L859.75,409.95 L860.09,410.90 L860.43,410.47 L860.78,409.07 L861.12,409.02 L861.46,409.21 L861.81,410.40 L862.15,409.30 L862.49,409.28 L862.83,408.96 L863.18,409.44 L863.52,409.03 L863.86,409.16 L864.21,408.57 L864.55,408.12 L864.89,406.68 L865.24,406.48 L865.58,406.77 L865.92,405.92 L866.27,405.48 L866.61,405.79 L866.95,405.68 L867.30,405.51 L867.64,405.02 L867.98,405.42 L868.33,406.80 L868.67,406.36 L869.01,405.64 L869.36,403.98 L869.70,405.20 L870.04,405.79 L870.39,406.69 L870.73,405.20 L871.07,404.66 L871.42,404.36 L871.76,402.96 L872.10,403.35 L872.45,401.76 L872.79,401.94 L873.13,400.76 L873.48,400.51 L873.82,402.02 L874.16,402.58 L874.51,404.77 L874.85,403.91 L875.19,402.80 L875.54,400.55 L875.88,398.88 L876.22,399.30 L876.57,399.47 L876.91,400.17 L877.25,398.65 L877.60,397.55 L877.94,397.85 L878.28,395.78 L878.63,396.99 L878.97,396.91 L879.31,399.24 L879.66,398.74 L880.00,398.15 L880.34,398.84 L880.69,397.63 L881.03,397.93 L881.37,395.96 L881.72,395.62 L882.06,396.31 L882.40,398.01 L882.75,399.91 L883.09,398.71 L883.43,397.66 L883.78,396.18 L884.12,396.85 L884.46,396.19 L884.81,395.14 L885.15,395.20 L885.49,395.43 L885.84,396.34 L886.18,394.53 L886.52,394.20 L886.86,392.66 L887.21,391.01 L887.55,389.74 L887.89,391.44 L888.24,390.11 L888.58,390.08 L888.92,389.78 L889.27,391.76 L889.61,392.21 L889.95,390.17 L890.30,389.70 L890.64,389.19 L890.98,391.84 L891.33,390.75 L891.67,391.16 L892.01,389.98 L892.36,389.83 L892.70,389.62 L893.04,388.03 L893.39,387.52 L893.73,388.33 L894.07,388.79 L894.42,390.53 L894.76,388.78 L895.10,387.46 L895.45,386.82 L895.79,384.96 L896.13,385.99 L896.48,385.85 L896.82,387.72 L897.16,386.84 L897.51,386.85 L897.85,386.39 L898.19,388.17 L898.54,385.60 L898.88,385.12 L899.22,384.04 L899.57,384.35 L899.91,385.71 L900.25,385.79 L900.60,384.97 L900.94,384.11 L901.28,382.14 L901.63,383.21 L901.97,383.42 L902.31,384.35 L902.66,384.20 L903.00,384.05 L903.34,384.69 L903.69,385.31 L904.03,386.04 L904.37,384.89 L904.72,383.52 L905.06,381.35 L905.40,382.66 L905.75,381.69 L906.09,382.17 L906.43,381.52 L906.78,381.32 L907.12,380.25 L907.46,378.17 L907.81,377.15 L908.15,376.43 L908.49,375.57 L908.84,375.94 L909.18,378.09 L909.52,379.51 L909.87,378.76 L910.21,376.85 L910.55,375.09 L910.89,374.38 L911.24,373.83 L911.58,372.48 L911.92,373.89 L912.27,373.05 L912.61,375.32 L912.95,374.59 L913.30,374.44 L913.64,374.10 L913.98,372.42 L914.33,374.25 L914.67,373.14 L915.01,374.47 L915.36,373.63 L915.70,373.49 L916.04,373.53 L916.39,372.16 L916.73,373.52 L917.07,373.25 L917.42,372.55 L917.76,370.02 L918.10,367.88 L918.45,368.32 L918.79,366.94 L919.13,368.82 L919.48,369.62 L919.82,372.30 L920.16,369.46 L920.51,368.30 L920.85,366.00 L921.19,365.16 L921.54,365.80 L921.88,367.29 L922.22,368.81 L922.57,366.12 L922.91,363.61 L923.25,361.55 L923.60,364.13 L923.94,365.35 L924.28,365.89 L924.63,365.67 L924.97,367.77 L925.31,367.38 L925.66,367.09 L926.00,364.77 L926.34,364.61 L926.69,362.96 L927.03,363.14 L927.37,362.53 L927.72,365.49 L928.06,366.00 L928.40,364.44 L928.75,363.03 L929.09,361.45 L929.43,361.83 L929.78,361.47 L930.12,360.10 L930.46,362.58 L930.81,363.28 L931.15,364.57 L931.49,364.09 L931.84,361.89 L932.18,361.00 L932.52,358.46 L932.87,359.31 L933.21,355.96 L933.55,356.59 L933.90,354.66 L934.24,356.76 L934.58,356.01 L934.92,356.16 L935.27,356.25 L935.61,353.95 L935.95,351.67 L936.30,350.60 L936.64,352.47 L936.98,354.25 L937.33,352.67 L937.67,352.35 L938.01,350.91 L938.36,352.25 L938.70,350.00 L939.04,351.32 L939.39,352.31 L939.73,354.31 L940.07,353.39 L940.42,355.65 L940.76,354.64 L941.10,357.05 L941.45,353.70 L941.79,352.75 L942.13,348.41 L942.48,349.71 L942.82,348.75 L943.16,350.03 L943.51,349.88 L943.85,351.95 L944.19,352.09 L944.54,350.46 L944.88,347.88 L945.22,348.59 L945.57,348.48 L945.91,347.70 L946.25,344.51 L946.60,343.02 L946.94,345.29 L947.28,344.42 L947.63,346.40 L947.97,345.07 L948.31,344.21 L948.66,340.54 L949.00,339.62 L949.34,339.28 L949.69,341.93 L950.03,343.48 L950.37,342.48 L950.72,340.79 L951.06,339.96 L951.40,342.45 L951.75,342.21 L952.09,340.53 L952.43,339.08 L952.78,339.27 L953.12,337.70 L953.46,335.88 L953.81,335.21 L954.15,338.76 L954.49,339.45 L954.84,339.06 L955.18,335.62 L955.52,334.87 L955.87,331.80 L956.21,334.34 L956.55,333.13 L956.90,333.80 L957.24,332.42 L957.58,332.70 L957.93,334.35 L958.27,333.41 L958.61,333.45 L958.95,333.64 L959.30,334.37 L959.64,332.43 L959.98,331.15 L960.33,331.41 L960.67,331.34 L961.01,332.35 L961.36,330.74 L961.70,330.35 L962.04,328.65 L962.39,330.83 L962.73,328.53 L963.07,331.46 L963.42,329.86 L963.76,330.96 L964.10,327.21 L964.45,326.21 L964.79,326.62 L965.13,327.20 L965.48,328.47 L965.82,327.99 L966.16,328.44 L966.51,327.68 L966.85,324.53 L967.19,325.66 L967.54,324.78 L967.88,324.84 L968.22,323.43 L968.57,323.65 L968.91,324.82 L969.25,323.39 L969.60,323.27 L969.94,321.39 L970.28,322.91 L970.63,322.69 L970.97,324.29 L971.31,323.36 L971.66,322.26 L972.00,321.19 L972.34,320.09 L972.69,320.51 L973.03,318.03 L973.37,319.70 L973.72,322.03 L974.06,323.16 L974.40,322.70 L974.75,321.73 L975.09,320.59 L975.43,319.95 L975.78,317.83 L976.12,319.24 L976.46,318.61 L976.81,319.25 L977.15,316.12 L977.49,316.94 L977.84,317.39 L978.18,318.97 L978.52,320.28 L978.87,321.55 L979.21,318.97 L979.55,318.33 L979.90,314.83 L980.24,318.28 L980.58,316.25 L980.93,319.28 L981.27,319.17 L981.61,316.64 L981.96,315.71 L982.30,312.66 L982.64,312.96 L982.98,308.48 L983.33,309.99 L983.67,308.36 L984.01,309.73 L984.36,309.07 L984.70,312.87 L985.04,311.80 L985.39,312.96 L985.73,310.95 L986.07,311.43 L986.42,307.44 L986.76,307.48 L987.10,307.75 L987.45,309.36 L987.79,305.94 L988.13,302.23 L988.48,304.37 L988.82,304.40 L989.16,312.14 L989.51,308.68 L989.85,310.97 L990.19,304.41 L990.54,304.30 L990.88,304.00 L991.22,307.06 L991.57,307.79 L991.91,305.83 L992.25,305.14 L992.60,302.84 L992.94,300.50 L993.28,298.59 L993.63,301.35 L993.97,305.09 L994.31,307.03 L994.66,303.50 L995.00,300.97 L995.90,475.30 L997.10,471.50 L997.10,470.95 L997.98,471.17 L998.87,470.62 L999.75,470.25 L1000.63,469.79 L1001.52,469.97 L1002.40,469.62" fill="none" stroke="#0000f0" stroke-width="1.8" stroke-linejoin="round"/>
<line x1="591.20" y1="462.70" x2="591.20" y2="470.30" stroke="#0000f0" stroke-width="1.1" stroke-linecap="butt"/>
<path d="M583.40,468.27 L583.74,468.38 L584.09,469.27 L584.43,468.54 L584.77,468.15 L585.12,467.55 L585.46,467.91 L585.80,468.24 L586.15,468.27 L586.49,468.34 L586.83,468.59 L587.18,468.61 L587.52,469.24 L587.86,468.85 L588.21,468.96 L588.55,468.41 L588.89,468.76 L589.24,468.78 L589.58,469.19 L589.92,468.82 L590.27,468.80 L590.61,468.42 L590.95,468.66 L591.30,469.26 L591.64,469.25 L591.98,468.89 L592.33,469.19 L592.67,470.03 L593.01,471.36 L593.36,470.43 L593.70,469.75 L594.04,469.03 L594.39,469.16 L594.73,469.21 L595.07,469.52 L595.42,469.86 L595.76,469.62 L596.10,470.10 L596.44,470.28 L596.79,470.39 L597.13,469.55 L597.47,469.67 L597.82,469.95 L598.16,470.91 L598.50,470.36 L598.85,470.13 L599.19,469.57 L599.53,470.42 L599.88,469.95 L600.22,469.87 L600.56,469.86 L600.91,470.12 L601.25,470.00 L601.59,469.45 L601.94,469.15 L602.28,468.80 L602.62,468.58 L602.97,468.80 L603.31,469.88 L603.65,469.70 L604.00,469.62 L604.34,469.51 L604.68,469.81 L605.03,469.58 L605.37,469.96 L605.71,470.29 L606.06,471.21 L606.40,470.67 L606.74,469.96 L607.09,468.74 L607.43,469.19 L607.77,469.42 L608.12,469.76 L608.46,469.73 L608.80,469.91 L609.15,470.08 L609.49,469.50 L609.83,468.94 L610.18,468.51 L610.52,469.39 L610.86,469.77 L611.21,469.62 L611.55,469.66 L611.89,469.62 L612.24,469.83 L612.58,470.04 L612.92,469.57 L613.27,469.14 L613.61,468.97 L613.95,468.57 L614.30,469.24 L614.64,469.07 L614.98,469.70 L615.33,469.73 L615.67,469.54 L616.01,469.44 L616.36,469.56 L616.70,469.88 L617.04,470.10 L617.39,470.32 L617.73,470.29 L618.07,469.82 L618.42,469.16 L618.76,468.85 L619.10,468.18 L619.45,468.29 L619.79,468.63 L620.13,468.81 L620.47,469.32 L620.82,468.95 L621.16,469.73 L621.50,469.26 L621.85,470.29 L622.19,469.76 L622.53,470.02 L622.88,469.56 L623.22,469.04 L623.56,468.65 L623.91,468.20 L624.25,469.11 L624.59,469.36 L624.94,469.39 L625.28,468.94 L625.62,468.61 L625.97,468.88 L626.31,469.27 L626.65,469.72 L627.00,469.73 L627.34,469.66 L627.68,469.35 L628.03,468.78 L628.37,468.29 L628.71,468.59 L629.06,468.54 L629.40,469.01 L629.74,468.14 L630.09,468.34 L630.43,467.91 L630.77,468.93 L631.12,468.99 L631.46,469.28 L631.80,469.07 L632.15,468.75 L632.49,469.32 L632.83,468.77 L633.18,469.08 L633.52,467.99 L633.86,468.23 L634.21,467.51 L634.55,468.47 L634.89,468.16 L635.24,468.74 L635.58,468.62 L635.92,468.89 L636.27,468.59 L636.61,468.23 L636.95,467.83 L637.30,467.43 L637.64,467.47 L637.98,468.01 L638.33,468.60 L638.67,468.59 L639.01,468.82 L639.36,468.32 L639.70,468.30 L640.04,467.54 L640.39,467.68 L640.73,467.47 L641.07,467.18 L641.42,467.91 L641.76,467.94 L642.10,467.99 L642.45,467.96 L642.79,467.72 L643.13,467.60 L643.48,467.94 L643.82,468.20 L644.16,468.63 L644.50,467.57 L644.85,467.48 L645.19,467.42 L645.53,468.01 L645.88,468.23 L646.22,468.06 L646.56,467.40 L646.91,467.14 L647.25,467.23 L647.59,467.48 L647.94,468.15 L648.28,467.88 L648.62,467.82 L648.97,467.09 L649.31,467.39 L649.65,467.47 L650.00,466.72 L650.34,466.42 L650.68,466.95 L651.03,466.90 L651.37,467.73 L651.71,467.28 L652.06,467.96 L652.40,467.11 L652.74,467.62 L653.09,466.87 L653.43,466.99 L653.77,467.25 L654.12,468.28 L654.46,468.29 L654.80,467.27 L655.15,466.60 L655.49,466.56 L655.83,466.85 L656.18,466.63 L656.52,466.70 L656.86,466.53 L657.21,466.91 L657.55,466.66 L657.89,466.29 L658.24,466.27 L658.58,465.90 L658.92,466.06 L659.27,465.60 L659.61,467.14 L659.95,466.93 L660.30,466.52 L660.64,465.87 L660.98,466.67 L661.33,466.40 L661.67,466.47 L662.01,466.08 L662.36,465.51 L662.70,464.69 L663.04,464.33 L663.39,465.19 L663.73,465.56 L664.07,466.31 L664.42,466.11 L664.76,466.44 L665.10,466.02 L665.45,466.61 L665.79,466.25 L666.13,465.85 L666.48,465.12 L666.82,465.19 L667.16,465.62 L667.51,466.03 L667.85,466.78 L668.19,466.46 L668.53,465.81 L668.88,465.26 L669.22,464.97 L669.56,465.46 L669.91,465.49 L670.25,465.82 L670.59,465.86 L670.94,465.02 L671.28,464.44 L671.62,464.31 L671.97,465.16 L672.31,465.41 L672.65,465.65 L673.00,465.36 L673.34,465.70 L673.68,465.38 L674.03,465.73 L674.37,465.47 L674.71,465.68 L675.06,465.91 L675.40,465.96 L675.74,465.55 L676.09,465.19 L676.43,464.90 L676.77,464.22 L677.12,463.76 L677.46,463.93 L677.80,464.27 L678.15,464.67 L678.49,464.13 L678.83,464.13 L679.18,464.22 L679.52,464.48 L679.86,464.51 L680.21,464.83 L680.55,465.31 L680.89,465.79 L681.24,465.48 L681.58,465.55 L681.92,465.69 L682.27,464.77 L682.61,464.25 L682.95,463.19 L683.30,463.41 L683.64,463.20 L683.98,464.02 L684.33,463.70 L684.67,464.32 L685.01,464.80 L685.36,465.07 L685.70,464.54 L686.04,463.39 L686.39,462.85 L686.73,462.95 L687.07,463.61 L687.42,463.23 L687.76,462.85 L688.10,462.72 L688.45,463.10 L688.79,463.79 L689.13,463.17 L689.48,463.03 L689.82,462.70 L690.16,462.81 L690.51,462.71 L690.85,462.67 L691.19,463.14 L691.54,463.63 L691.88,464.10 L692.22,463.36 L692.56,462.14 L692.91,462.22 L693.25,462.23 L693.59,462.93 L693.94,462.62 L694.28,462.58 L694.62,462.93 L694.97,462.18 L695.31,462.39 L695.65,461.92 L696.00,461.98 L696.34,461.98 L696.68,462.40 L697.03,462.83 L697.37,462.42 L697.71,461.74 L698.06,461.46 L698.40,461.98 L698.74,461.93 L699.09,461.82 L699.43,461.56 L699.77,460.98 L700.12,461.19 L700.46,461.35 L700.80,462.52 L701.15,462.08 L701.49,461.68 L701.83,460.79 L702.18,460.84 L702.52,460.40 L702.86,460.40 L703.21,460.65 L703.55,461.14 L703.89,461.23 L704.24,461.55 L704.58,461.18 L704.92,461.02 L705.27,460.31 L705.61,460.79 L705.95,461.04 L706.30,461.61 L706.64,461.28 L706.98,461.68 L707.33,461.32 L707.67,461.37 L708.01,460.92 L708.36,460.50 L708.70,460.63 L709.04,460.54 L709.39,461.53 L709.73,461.69 L710.07,462.09 L710.42,461.47 L710.76,460.79 L711.10,461.04 L711.45,460.89 L711.79,460.91 L712.13,460.02 L712.48,460.01 L712.82,459.74 L713.16,460.51 L713.51,460.57 L713.85,460.93 L714.19,460.23 L714.54,460.60 L714.88,460.90 L715.22,460.96 L715.57,459.91 L715.91,459.46 L716.25,459.63 L716.59,460.48 L716.94,460.24 L717.28,460.26 L717.62,459.51 L717.97,459.75 L718.31,460.29 L718.65,460.97 L719.00,461.40 L719.34,461.35 L719.68,460.81 L720.03,460.14 L720.37,460.11 L720.71,459.88 L721.06,459.87 L721.40,459.99 L721.74,460.35 L722.09,460.44 L722.43,460.33 L722.77,461.04 L723.12,460.96 L723.46,460.45 L723.80,460.61 L724.15,460.43 L724.49,460.28 L724.83,459.54 L725.18,459.62 L725.52,459.98 L725.86,459.96 L726.21,459.97 L726.55,459.28 L726.89,459.50 L727.24,459.11 L727.58,459.29 L727.92,458.99 L728.27,459.21 L728.61,459.76 L728.95,459.75 L729.30,459.38 L729.64,458.88 L729.98,458.89 L730.33,457.81 L730.67,458.03 L731.01,457.66 L731.36,458.80 L731.70,458.64 L732.04,458.24 L732.39,458.32 L732.73,457.62 L733.07,457.57 L733.42,457.69 L733.76,457.82 L734.10,458.23 L734.45,456.88 L734.79,457.39 L735.13,457.65 L735.48,459.24 L735.82,459.65 L736.16,459.59 L736.51,459.27 L736.85,459.14 L737.19,459.16 L737.54,458.92 L737.88,457.98 L738.22,458.26 L738.57,458.17 L738.91,458.95 L739.25,458.75 L739.60,459.02 L739.94,459.02 L740.28,458.21 L740.63,457.89 L740.97,457.68 L741.31,457.74 L741.65,457.77 L742.00,457.57 L742.34,457.61 L742.68,458.08 L743.03,457.76 L743.37,457.64 L743.71,457.32 L744.06,458.02 L744.40,457.57 L744.74,457.43 L745.09,455.93 L745.43,456.87 L745.77,456.40 L746.12,457.56 L746.46,457.22 L746.80,457.11 L747.15,457.21 L747.49,457.48 L747.83,457.71 L748.18,457.21 L748.52,456.85 L748.86,456.27 L749.21,455.71 L749.55,455.87 L749.89,456.31 L750.24,456.76 L750.58,457.10 L750.92,457.03 L751.27,456.23 L751.61,456.02 L751.95,456.30 L752.30,456.25 L752.64,456.26 L752.98,456.10 L753.33,456.40 L753.67,455.92 L754.01,456.34 L754.36,456.77 L754.70,456.77 L755.04,455.85 L755.39,455.75 L755.73,455.92 L756.07,455.15 L756.42,455.08 L756.76,454.66 L757.10,454.89 L757.45,454.94 L757.79,455.12 L758.13,455.33 L758.48,455.32 L758.82,456.05 L759.16,455.51 L759.51,455.45 L759.85,455.24 L760.19,455.90 L760.54,455.03 L760.88,454.51 L761.22,453.98 L761.57,454.92 L761.91,455.61 L762.25,455.19 L762.60,454.66 L762.94,454.42 L763.28,454.06 L763.63,453.92 L763.97,453.81 L764.31,454.65 L764.66,455.07 L765.00,454.40 L765.34,454.15 L765.68,454.71 L766.03,454.21 L766.37,453.96 L766.71,453.09 L767.06,453.04 L767.40,453.14 L767.74,453.35 L768.09,453.43 L768.43,452.76 L768.77,453.09 L769.12,453.47 L769.46,453.81 L769.80,453.94 L770.15,453.76 L770.49,454.43 L770.83,454.07 L771.18,454.35 L771.52,453.87 L771.86,454.01 L772.21,453.54 L772.55,452.40 L772.89,451.92 L773.24,452.38 L773.58,453.07 L773.92,453.37 L774.27,452.37 L774.61,452.66 L774.95,452.65 L775.30,452.71 L775.64,452.69 L775.98,453.00 L776.33,453.12 L776.67,452.76 L777.01,451.79 L777.36,451.58 L777.70,451.72 L778.04,451.86 L778.39,451.43 L778.73,450.59 L779.07,450.72 L779.42,450.86 L779.76,450.73 L780.10,450.19 L780.45,450.23 L780.79,450.52 L781.13,451.72 L781.48,451.61 L781.82,452.00 L782.16,451.19 L782.51,451.14 L782.85,450.69 L783.19,450.49 L783.54,450.19 L783.88,450.13 L784.22,450.39 L784.57,451.14 L784.91,450.52 L785.25,449.75 L785.60,449.26 L785.94,449.41 L786.28,450.49 L786.63,450.87 L786.97,451.19 L787.31,449.91 L787.66,449.53 L788.00,449.72 L788.34,449.46 L788.69,449.73 L789.03,448.93 L789.37,449.44 L789.71,448.74 L790.06,448.91 L790.40,448.15 L790.74,448.53 L791.09,448.62 L791.43,449.86 L791.77,449.62 L792.12,449.83 L792.46,448.93 L792.80,448.18 L793.15,448.05 L793.49,448.92 L793.83,448.73 L794.18,447.87 L794.52,447.90 L794.86,448.13 L795.21,448.06 L795.55,447.22 L795.89,446.80 L796.24,447.68 L796.58,446.98 L796.92,447.17 L797.27,445.59 L797.61,445.22 L797.95,445.12 L798.30,446.31 L798.64,447.12 L798.98,447.08 L799.33,446.79 L799.67,447.72 L800.01,446.76 L800.36,446.60 L800.70,446.69 L801.04,447.46 L801.39,447.80 L801.73,447.11 L802.07,447.09 L802.42,446.94 L802.76,446.61 L803.10,446.82 L803.45,445.68 L803.79,445.22 L804.13,445.07 L804.48,445.61 L804.82,445.89 L805.16,445.25 L805.51,444.81 L805.85,444.63 L806.19,444.79 L806.54,444.76 L806.88,444.38 L807.22,444.57 L807.57,444.56 L807.91,444.79 L808.25,444.59 L808.60,444.29 L808.94,444.10 L809.28,443.77 L809.63,444.02 L809.97,444.43 L810.31,443.50 L810.66,442.65 L811.00,442.79 L811.34,443.74 L811.69,443.11 L812.03,442.06 L812.37,441.57 L812.72,441.87 L813.06,443.22 L813.40,443.20 L813.74,443.13 L814.09,443.29 L814.43,443.79 L814.77,443.75 L815.12,442.08 L815.46,441.91 L815.80,441.94 L816.15,441.75 L816.49,441.54 L816.83,441.92 L817.18,442.57 L817.52,442.32 L817.86,440.82 L818.21,440.54 L818.55,440.70 L818.89,440.10 L819.24,440.30 L819.58,439.53 L819.92,440.29 L820.27,439.49 L820.61,439.47 L820.95,439.50 L821.30,439.65 L821.64,440.16 L821.98,440.33 L822.33,440.57 L822.67,439.75 L823.01,439.12 L823.36,439.34 L823.70,438.81 L824.04,437.99 L824.39,438.70 L824.73,439.04 L825.07,439.85 L825.42,440.08 L825.76,439.71 L826.10,439.56 L826.45,438.39 L826.79,438.85 L827.13,437.91 L827.48,436.89 L827.82,436.38 L828.16,436.43 L828.51,436.87 L828.85,436.95 L829.19,437.52 L829.54,437.14 L829.88,437.68 L830.22,437.15 L830.57,436.56 L830.91,435.65 L831.25,435.30 L831.60,434.53 L831.94,435.56 L832.28,435.75 L832.63,437.24 L832.97,436.45 L833.31,437.06 L833.66,436.69 L834.00,436.47 L834.34,436.10 L834.69,436.18 L835.03,436.42 L835.37,437.13 L835.72,436.27 L836.06,436.07 L836.40,435.39 L836.75,435.46 L837.09,435.51 L837.43,436.13 L837.77,435.62 L838.12,436.01 L838.46,434.92 L838.80,435.08 L839.15,433.38 L839.49,432.51 L839.83,432.19 L840.18,433.13 L840.52,433.77 L840.86,433.06 L841.21,431.42 L841.55,430.64 L841.89,431.48 L842.24,431.66 L842.58,432.23 L842.92,431.83 L843.27,432.39 L843.61,431.77 L843.95,431.19 L844.30,430.48 L844.64,429.84 L844.98,429.27 L845.33,431.20 L845.67,432.94 L846.01,432.77 L846.36,431.63 L846.70,429.31 L847.04,428.94 L847.39,428.77 L847.73,429.57 L848.07,428.87 L848.42,428.72 L848.76,428.95 L849.10,429.85 L849.45,430.30 L849.79,429.84 L850.13,429.93 L850.48,428.60 L850.82,428.63 L851.16,426.99 L851.51,426.88 L851.85,426.59 L852.19,427.86 L852.54,428.86 L852.88,429.15 L853.22,427.30 L853.57,427.18 L853.91,426.78 L854.25,426.96 L854.60,425.39 L854.94,425.29 L855.28,425.87 L855.63,426.01 L855.97,426.13 L856.31,424.47 L856.66,425.09 L857.00,424.67 L857.34,424.62 L857.69,424.98 L858.03,423.54 L858.37,422.85 L858.72,421.10 L859.06,421.19 L859.40,421.48 L859.75,422.48 L860.09,422.14 L860.43,421.52 L860.78,421.73 L861.12,421.32 L861.46,422.26 L861.81,420.84 L862.15,421.20 L862.49,420.28 L862.83,420.14 L863.18,420.35 L863.52,420.66 L863.86,420.39 L864.21,420.15 L864.55,420.16 L864.89,419.68 L865.24,419.20 L865.58,419.17 L865.92,420.44 L866.27,420.29 L866.61,421.44 L866.95,419.96 L867.30,420.18 L867.64,417.85 L867.98,416.11 L868.33,415.71 L868.67,415.55 L869.01,416.95 L869.36,417.33 L869.70,418.36 L870.04,417.63 L870.39,416.75 L870.73,415.50 L871.07,416.66 L871.42,418.13 L871.76,418.38 L872.10,416.40 L872.45,415.17 L872.79,414.74 L873.13,414.78 L873.48,414.86 L873.82,414.79 L874.16,415.37 L874.51,416.19 L874.85,415.84 L875.19,415.09 L875.54,413.39 L875.88,414.64 L876.22,415.24 L876.57,414.99 L876.91,413.66 L877.25,412.21 L877.60,413.10 L877.94,413.02 L878.28,414.44 L878.63,413.84 L878.97,413.51 L879.31,412.58 L879.66,411.58 L880.00,410.47 L880.34,411.83 L880.69,411.68 L881.03,411.84 L881.37,411.07 L881.72,412.08 L882.06,412.55 L882.40,411.36 L882.75,411.02 L883.09,411.85 L883.43,411.64 L883.78,411.07 L884.12,407.66 L884.46,408.20 L884.81,406.31 L885.15,406.85 L885.49,405.57 L885.84,405.73 L886.18,406.54 L886.52,405.86 L886.86,407.03 L887.21,406.83 L887.55,408.15 L887.89,408.77 L888.24,409.36 L888.58,409.22 L888.92,407.47 L889.27,406.34 L889.61,405.64 L889.95,405.59 L890.30,406.41 L890.64,407.08 L890.98,406.47 L891.33,405.95 L891.67,404.43 L892.01,405.44 L892.36,406.83 L892.70,406.84 L893.04,405.55 L893.39,403.22 L893.73,401.73 L894.07,400.55 L894.42,401.16 L894.76,401.18 L895.10,401.83 L895.45,401.46 L895.79,401.57 L896.13,399.07 L896.48,399.16 L896.82,400.23 L897.16,400.90 L897.51,401.30 L897.85,400.14 L898.19,401.27 L898.54,401.28 L898.88,399.75 L899.22,398.91 L899.57,398.70 L899.91,399.81 L900.25,400.75 L900.60,399.18 L900.94,399.13 L901.28,399.17 L901.63,400.14 L901.97,400.21 L902.31,399.52 L902.66,399.56 L903.00,398.95 L903.34,398.96 L903.69,396.22 L904.03,395.23 L904.37,397.71 L904.72,399.84 L905.06,400.30 L905.40,397.61 L905.75,395.66 L906.09,394.82 L906.43,396.69 L906.78,397.71 L907.12,398.31 L907.46,395.78 L907.81,394.71 L908.15,395.18 L908.49,394.51 L908.84,396.24 L909.18,395.43 L909.52,396.04 L909.87,392.81 L910.21,392.79 L910.55,393.89 L910.89,394.74 L911.24,394.24 L911.58,391.41 L911.92,392.20 L912.27,392.36 L912.61,392.01 L912.95,390.86 L913.30,388.92 L913.64,390.62 L913.98,389.15 L914.33,390.13 L914.67,388.00 L915.01,389.70 L915.36,390.10 L915.70,390.70 L916.04,389.56 L916.39,386.53 L916.73,385.82 L917.07,384.94 L917.42,385.95 L917.76,383.15 L918.10,384.23 L918.45,383.50 L918.79,386.07 L919.13,385.07 L919.48,386.31 L919.82,385.51 L920.16,387.18 L920.51,387.65 L920.85,388.92 L921.19,388.92 L921.54,387.20 L921.88,386.17 L922.22,385.97 L922.57,385.35 L922.91,386.62 L923.25,385.71 L923.60,386.05 L923.94,383.40 L924.28,382.88 L924.63,383.40 L924.97,385.68 L925.31,384.72 L925.66,385.33 L926.00,384.47 L926.34,385.75 L926.69,386.04 L927.03,385.46 L927.37,384.17 L927.72,381.30 L928.06,381.49 L928.40,381.10 L928.75,380.10 L929.09,376.58 L929.43,377.26 L929.78,377.68 L930.12,378.81 L930.46,378.04 L930.81,377.18 L931.15,377.26 L931.49,377.60 L931.84,378.95 L932.18,379.15 L932.52,379.51 L932.87,378.84 L933.21,378.54 L933.55,376.67 L933.90,374.48 L934.24,374.64 L934.58,374.72 L934.92,374.47 L935.27,373.40 L935.61,375.43 L935.95,377.67 L936.30,376.74 L936.64,374.18 L936.98,372.14 L937.33,373.68 L937.67,373.08 L938.01,371.91 L938.36,370.90 L938.70,372.30 L939.04,374.84 L939.39,373.81 L939.73,374.98 L940.07,372.25 L940.42,372.24 L940.76,370.57 L941.10,369.90 L941.45,370.41 L941.79,369.74 L942.13,370.19 L942.48,369.26 L942.82,369.98 L943.16,369.37 L943.51,369.20 L943.85,368.81 L944.19,369.92 L944.54,370.35 L944.88,367.83 L945.22,366.88 L945.57,367.04 L945.91,370.20 L946.25,371.56 L946.60,372.85 L946.94,371.20 L947.28,369.94 L947.63,369.10 L947.97,370.84 L948.31,370.73 L948.66,369.99 L949.00,369.76 L949.34,368.71 L949.69,367.98 L950.03,366.62 L950.37,365.68 L950.72,366.10 L951.06,364.23 L951.40,365.87 L951.75,364.17 L952.09,364.33 L952.43,362.90 L952.78,362.93 L953.12,364.43 L953.46,365.27 L953.81,365.87 L954.15,365.05 L954.49,362.83 L954.84,362.18 L955.18,360.58 L955.52,360.72 L955.87,360.10 L956.21,360.08 L956.55,360.76 L956.90,361.20 L957.24,358.41 L957.58,358.86 L957.93,358.24 L958.27,358.65 L958.61,356.44 L958.95,354.96 L959.30,354.98 L959.64,356.59 L959.98,357.71 L960.33,359.69 L960.67,357.20 L961.01,355.08 L961.36,353.19 L961.70,353.28 L962.04,355.15 L962.39,355.85 L962.73,356.25 L963.07,356.32 L963.42,355.14 L963.76,354.27 L964.10,351.59 L964.45,349.78 L964.79,350.62 L965.13,350.75 L965.48,351.82 L965.82,350.93 L966.16,354.25 L966.51,355.24 L966.85,354.56 L967.19,352.08 L967.54,350.66 L967.88,351.07 L968.22,351.95 L968.57,352.16 L968.91,352.66 L969.25,350.42 L969.60,352.03 L969.94,351.92 L970.28,352.37 L970.63,349.15 L970.97,349.28 L971.31,348.52 L971.66,349.80 L972.00,351.22 L972.34,351.14 L972.69,353.00 L973.03,351.56 L973.37,349.53 L973.72,347.50 L974.06,346.62 L974.40,347.78 L974.75,348.53 L975.09,347.82 L975.43,349.05 L975.78,346.02 L976.12,346.27 L976.46,341.19 L976.81,341.83 L977.15,341.88 L977.49,343.11 L977.84,343.65 L978.18,342.31 L978.52,342.49 L978.87,342.96 L979.21,344.73 L979.55,345.63 L979.90,347.18 L980.24,346.79 L980.58,345.71 L980.93,343.72 L981.27,342.76 L981.61,343.95 L981.96,342.87 L982.30,345.03 L982.64,344.90 L982.98,346.79 L983.33,343.13 L983.67,341.77 L984.01,340.06 L984.36,341.06 L984.70,341.11 L985.04,343.64 L985.39,343.98 L985.73,347.93 L986.07,344.38 L986.42,342.94 L986.76,341.61 L987.10,344.17 L987.45,348.86 L987.79,349.21 L988.13,347.79 L988.48,345.30 L988.82,344.76 L989.16,345.38 L989.51,345.84 L989.85,343.71 L990.19,341.88 L990.54,341.03 L990.88,341.54 L991.22,342.44 L991.57,344.00 L991.91,343.65 L992.25,343.41 L992.60,340.04 L992.94,342.09 L993.28,340.82 L993.63,342.03 L993.97,339.07 L994.31,338.14 L994.66,339.24 L995.00,338.96 L995.90,475.30 L997.10,471.50 L997.10,470.81 L997.98,470.60 L998.87,470.78 L999.75,470.59 L1000.63,470.63 L1001.52,470.21 L1002.40,469.83" fill="none" stroke="#00e600" stroke-width="1.8" stroke-linejoin="round"/>
<line x1="591.00" y1="465.50" x2="591.00" y2="474.00" stroke="#00e000" stroke-width="1.1" stroke-linecap="butt"/>
<line x1="619.40" y1="464.20" x2="619.40" y2="468.00" stroke="#00e000" stroke-width="1.1" stroke-linecap="butt"/>
<line x1="626.60" y1="455.90" x2="626.60" y2="472.70" stroke="#00e000" stroke-width="1.1" stroke-linecap="butt"/>
<path d="M583.40,468.16 L583.74,468.05 L584.09,468.84 L584.43,468.28 L584.77,468.45 L585.12,468.83 L585.46,468.72 L585.80,468.92 L586.15,467.15 L586.49,467.06 L586.83,466.94 L587.18,468.13 L587.52,468.43 L587.86,468.68 L588.21,468.76 L588.55,468.43 L588.89,468.36 L589.24,467.94 L589.58,468.19 L589.92,468.09 L590.27,467.96 L590.61,467.94 L590.95,468.11 L591.30,468.72 L591.64,468.77 L591.98,468.08 L592.33,468.13 L592.67,468.42 L593.01,468.56 L593.36,468.88 L593.70,468.82 L594.04,468.90 L594.39,468.45 L594.73,468.31 L595.07,468.31 L595.42,469.19 L595.76,468.79 L596.10,469.33 L596.44,469.05 L596.79,469.26 L597.13,468.81 L597.47,468.26 L597.82,468.68 L598.16,468.78 L598.50,468.74 L598.85,467.90 L599.19,467.45 L599.53,467.54 L599.88,467.69 L600.22,467.88 L600.56,468.17 L600.91,468.29 L601.25,468.01 L601.59,467.87 L601.94,468.21 L602.28,468.58 L602.62,469.44 L602.97,468.85 L603.31,468.88 L603.65,468.65 L604.00,468.92 L604.34,469.39 L604.68,468.62 L605.03,469.31 L605.37,469.26 L605.71,469.32 L606.06,468.29 L606.40,468.63 L606.74,469.13 L607.09,469.33 L607.43,468.77 L607.77,468.03 L608.12,468.27 L608.46,468.01 L608.80,468.84 L609.15,468.08 L609.49,468.29 L609.83,468.05 L610.18,469.06 L610.52,468.52 L610.86,467.98 L611.21,467.10 L611.55,467.42 L611.89,467.46 L612.24,467.77 L612.58,468.45 L612.92,469.00 L613.27,468.36 L613.61,468.54 L613.95,468.33 L614.30,468.75 L614.64,468.18 L614.98,467.72 L615.33,468.05 L615.67,468.69 L616.01,468.89 L616.36,468.29 L616.70,467.59 L617.04,467.36 L617.39,467.99 L617.73,468.00 L618.07,467.99 L618.42,467.60 L618.76,467.95 L619.10,467.79 L619.45,468.06 L619.79,467.53 L620.13,467.49 L620.47,466.63 L620.82,466.31 L621.16,465.93 L621.50,467.27 L621.85,467.64 L622.19,468.30 L622.53,467.61 L622.88,468.36 L623.22,467.89 L623.56,467.70 L623.91,467.37 L624.25,468.17 L624.59,468.87 L624.94,468.36 L625.28,467.78 L625.62,466.95 L625.97,466.90 L626.31,466.95 L626.65,467.58 L627.00,466.98 L627.34,466.89 L627.68,466.53 L628.03,467.56 L628.37,467.87 L628.71,468.61 L629.06,467.78 L629.40,467.56 L629.74,467.32 L630.09,467.97 L630.43,468.22 L630.77,468.33 L631.12,468.52 L631.46,468.47 L631.80,467.37 L632.15,467.23 L632.49,467.63 L632.83,468.73 L633.18,469.16 L633.52,468.75 L633.86,468.19 L634.21,467.69 L634.55,467.88 L634.89,468.08 L635.24,468.03 L635.58,468.59 L635.92,468.91 L636.27,468.83 L636.61,468.59 L636.95,468.68 L637.30,468.85 L637.64,468.74 L637.98,468.36 L638.33,468.35 L638.67,468.27 L639.01,468.27 L639.36,467.95 L639.70,467.37 L640.04,468.32 L640.39,468.24 L640.73,468.87 L641.07,468.08 L641.42,467.97 L641.76,467.32 L642.10,467.15 L642.45,467.29 L642.79,467.20 L643.13,467.51 L643.48,467.52 L643.82,467.83 L644.16,467.99 L644.50,466.98 L644.85,466.95 L645.19,466.04 L645.53,466.63 L645.88,467.11 L646.22,467.74 L646.56,467.44 L646.91,467.62 L647.25,467.46 L647.59,467.77 L647.94,467.13 L648.28,467.35 L648.62,466.97 L648.97,467.80 L649.31,467.96 L649.65,468.59 L650.00,468.91 L650.34,468.65 L650.68,468.07 L651.03,467.65 L651.37,467.42 L651.71,467.23 L652.06,467.20 L652.40,467.31 L652.74,467.95 L653.09,468.73 L653.43,468.45 L653.77,468.93 L654.12,468.24 L654.46,468.48 L654.80,467.53 L655.15,467.75 L655.49,467.84 L655.83,468.19 L656.18,468.32 L656.52,468.09 L656.86,468.20 L657.21,468.01 L657.55,467.85 L657.89,468.14 L658.24,468.13 L658.58,468.65 L658.92,468.29 L659.27,468.65 L659.61,467.58 L659.95,467.09 L660.30,467.23 L660.64,467.67 L660.98,468.19 L661.33,467.80 L661.67,467.78 L662.01,468.04 L662.36,468.34 L662.70,468.68 L663.04,468.70 L663.39,468.13 L663.73,468.39 L664.07,468.11 L664.42,467.87 L664.76,467.80 L665.10,468.05 L665.45,468.29 L665.79,468.08 L666.13,467.48 L666.48,467.36 L666.82,467.52 L667.16,468.33 L667.51,468.44 L667.85,467.36 L668.19,467.20 L668.53,467.10 L668.88,467.73 L669.22,467.57 L669.56,466.85 L669.91,467.27 L670.25,466.97 L670.59,467.58 L670.94,467.05 L671.28,467.55 L671.62,466.91 L671.97,467.19 L672.31,466.84 L672.65,467.73 L673.00,468.08 L673.34,468.00 L673.68,467.51 L674.03,467.13 L674.37,466.87 L674.71,466.85 L675.06,467.16 L675.40,467.23 L675.74,467.17 L676.09,467.29 L676.43,467.19 L676.77,466.94 L677.12,466.81 L677.46,467.14 L677.80,467.38 L678.15,466.75 L678.49,466.65 L678.83,466.76 L679.18,467.41 L679.52,466.90 L679.86,467.48 L680.21,467.28 L680.55,467.25 L680.89,466.94 L681.24,466.56 L681.58,466.62 L681.92,466.36 L682.27,466.77 L682.61,467.41 L682.95,467.44 L683.30,466.95 L683.64,466.71 L683.98,465.84 L684.33,466.49 L684.67,466.00 L685.01,466.64 L685.36,467.29 L685.70,467.81 L686.04,467.83 L686.39,467.35 L686.73,467.67 L687.07,467.63 L687.42,467.52 L687.76,467.62 L688.10,468.02 L688.45,467.47 L688.79,467.11 L689.13,466.45 L689.48,466.29 L689.82,466.14 L690.16,466.68 L690.51,467.61 L690.85,467.51 L691.19,466.85 L691.54,466.44 L691.88,466.24 L692.22,466.59 L692.56,466.67 L692.91,467.04 L693.25,466.77 L693.59,467.15 L693.94,467.54 L694.28,467.59 L694.62,467.43 L694.97,467.41 L695.31,467.09 L695.65,466.64 L696.00,465.34 L696.34,465.25 L696.68,465.44 L697.03,466.23 L697.37,466.49 L697.71,466.58 L698.06,466.52 L698.40,466.79 L698.74,467.69 L699.09,467.77 L699.43,467.65 L699.77,466.07 L700.12,466.51 L700.46,466.60 L700.80,466.65 L701.15,466.80 L701.49,466.33 L701.83,466.31 L702.18,466.05 L702.52,466.10 L702.86,466.55 L703.21,466.47 L703.55,466.62 L703.89,466.25 L704.24,466.44 L704.58,465.51 L704.92,465.75 L705.27,466.28 L705.61,466.63 L705.95,466.45 L706.30,465.98 L706.64,465.97 L706.98,465.57 L707.33,465.85 L707.67,465.99 L708.01,467.33 L708.36,467.58 L708.70,466.98 L709.04,466.36 L709.39,466.27 L709.73,467.03 L710.07,466.74 L710.42,466.57 L710.76,466.58 L711.10,466.70 L711.45,466.67 L711.79,465.97 L712.13,466.39 L712.48,466.05 L712.82,466.21 L713.16,466.09 L713.51,466.88 L713.85,467.01 L714.19,466.86 L714.54,466.86 L714.88,466.52 L715.22,466.60 L715.57,465.99 L715.91,466.02 L716.25,466.20 L716.59,467.27 L716.94,467.37 L717.28,467.07 L717.62,466.41 L717.97,466.45 L718.31,466.94 L718.65,467.04 L719.00,467.55 L719.34,466.89 L719.68,466.61 L720.03,466.50 L720.37,467.33 L720.71,467.50 L721.06,466.93 L721.40,466.36 L721.74,466.46 L722.09,466.52 L722.43,466.25 L722.77,465.58 L723.12,465.79 L723.46,465.85 L723.80,466.10 L724.15,466.14 L724.49,466.68 L724.83,466.18 L725.18,466.17 L725.52,465.20 L725.86,466.38 L726.21,466.33 L726.55,466.37 L726.89,465.75 L727.24,465.70 L727.58,465.65 L727.92,465.23 L728.27,465.37 L728.61,465.66 L728.95,465.39 L729.30,464.68 L729.64,464.50 L729.98,464.73 L730.33,465.07 L730.67,464.74 L731.01,465.11 L731.36,465.67 L731.70,465.92 L732.04,465.92 L732.39,465.59 L732.73,465.60 L733.07,465.20 L733.42,465.61 L733.76,465.40 L734.10,466.17 L734.45,465.64 L734.79,466.27 L735.13,466.22 L735.48,466.23 L735.82,466.11 L736.16,465.97 L736.51,466.43 L736.85,466.36 L737.19,466.04 L737.54,466.10 L737.88,465.97 L738.22,466.07 L738.57,466.14 L738.91,466.60 L739.25,465.89 L739.60,465.34 L739.94,464.71 L740.28,464.94 L740.63,465.35 L740.97,465.47 L741.31,465.61 L741.65,465.28 L742.00,465.36 L742.34,465.60 L742.68,465.78 L743.03,465.95 L743.37,465.32 L743.71,464.49 L744.06,464.42 L744.40,464.85 L744.74,466.25 L745.09,466.21 L745.43,466.21 L745.77,466.04 L746.12,465.68 L746.46,466.11 L746.80,465.86 L747.15,466.17 L747.49,466.10 L747.83,465.81 L748.18,465.55 L748.52,465.46 L748.86,466.14 L749.21,466.18 L749.55,465.83 L749.89,465.69 L750.24,465.84 L750.58,465.66 L750.92,465.16 L751.27,464.88 L751.61,464.88 L751.95,464.24 L752.30,463.96 L752.64,463.97 L752.98,464.10 L753.33,464.16 L753.67,464.17 L754.01,464.82 L754.36,464.88 L754.70,465.20 L755.04,464.43 L755.39,464.82 L755.73,464.63 L756.07,465.06 L756.42,464.58 L756.76,464.85 L757.10,465.05 L757.45,465.63 L757.79,465.97 L758.13,465.84 L758.48,465.97 L758.82,465.89 L759.16,465.41 L759.51,465.59 L759.85,465.65 L760.19,466.27 L760.54,465.92 L760.88,466.36 L761.22,466.45 L761.57,466.58 L761.91,466.10 L762.25,465.88 L762.60,465.98 L762.94,466.28 L763.28,466.06 L763.63,465.36 L763.97,464.78 L764.31,464.82 L764.66,465.06 L765.00,465.43 L765.34,465.33 L765.68,465.64 L766.03,465.29 L766.37,465.20 L766.71,465.40 L767.06,465.11 L767.40,464.62 L767.74,464.34 L768.09,464.48 L768.43,464.86 L768.77,464.57 L769.12,465.18 L769.46,464.74 L769.80,465.13 L770.15,464.40 L770.49,464.88 L770.83,464.86 L771.18,465.28 L771.52,465.02 L771.86,465.23 L772.21,465.30 L772.55,465.78 L772.89,466.03 L773.24,465.48 L773.58,465.17 L773.92,464.65 L774.27,464.72 L774.61,465.00 L774.95,464.95 L775.30,464.85 L775.64,464.36 L775.98,464.92 L776.33,466.42 L776.67,467.10 L777.01,466.19 L777.36,465.18 L777.70,464.84 L778.04,465.04 L778.39,465.04 L778.73,464.93 L779.07,464.89 L779.42,464.46 L779.76,464.35 L780.10,464.88 L780.45,464.86 L780.79,465.02 L781.13,464.39 L781.48,463.68 L781.82,463.92 L782.16,464.92 L782.51,465.85 L782.85,465.44 L783.19,464.68 L783.54,464.20 L783.88,464.61 L784.22,465.18 L784.57,464.94 L784.91,464.94 L785.25,464.41 L785.60,464.92 L785.94,464.36 L786.28,464.56 L786.63,464.18 L786.97,464.28 L787.31,464.73 L787.66,464.77 L788.00,465.00 L788.34,464.76 L788.69,464.43 L789.03,464.46 L789.37,464.86 L789.71,465.56 L790.06,465.65 L790.40,465.06 L790.74,465.13 L791.09,464.63 L791.43,464.63 L791.77,464.31 L792.12,465.02 L792.46,464.82 L792.80,464.40 L793.15,464.65 L793.49,464.40 L793.83,464.05 L794.18,463.37 L794.52,463.55 L794.86,463.19 L795.21,463.00 L795.55,463.38 L795.89,464.08 L796.24,464.54 L796.58,464.27 L796.92,464.88 L797.27,464.63 L797.61,464.73 L797.95,463.94 L798.30,464.06 L798.64,463.51 L798.98,463.69 L799.33,463.82 L799.67,463.89 L800.01,463.37 L800.36,463.22 L800.70,462.97 L801.04,463.49 L801.39,463.60 L801.73,463.56 L802.07,463.92 L802.42,463.26 L802.76,463.91 L803.10,463.56 L803.45,464.29 L803.79,464.28 L804.13,463.95 L804.48,463.61 L804.82,463.34 L805.16,463.73 L805.51,463.60 L805.85,463.92 L806.19,464.16 L806.54,464.24 L806.88,464.26 L807.22,464.22 L807.57,464.05 L807.91,463.70 L808.25,463.59 L808.60,463.20 L808.94,462.90 L809.28,462.48 L809.63,462.97 L809.97,463.43 L810.31,464.15 L810.66,464.17 L811.00,464.81 L811.34,464.45 L811.69,464.15 L812.03,462.92 L812.37,462.59 L812.72,463.17 L813.06,463.51 L813.40,464.06 L813.74,463.63 L814.09,463.74 L814.43,463.19 L814.77,462.38 L815.12,462.18 L815.46,461.71 L815.80,462.36 L816.15,462.79 L816.49,463.23 L816.83,462.92 L817.18,462.81 L817.52,463.10 L817.86,463.98 L818.21,463.82 L818.55,463.47 L818.89,463.15 L819.24,463.26 L819.58,463.93 L819.92,463.63 L820.27,463.14 L820.61,462.59 L820.95,462.40 L821.30,463.03 L821.64,462.55 L821.98,462.58 L822.33,462.03 L822.67,462.45 L823.01,463.06 L823.36,463.07 L823.70,463.23 L824.04,462.38 L824.39,462.04 L824.73,461.85 L825.07,462.60 L825.42,463.09 L825.76,463.30 L826.10,462.77 L826.45,463.02 L826.79,463.65 L827.13,463.44 L827.48,462.92 L827.82,462.37 L828.16,463.02 L828.51,462.61 L828.85,463.43 L829.19,463.02 L829.54,463.13 L829.88,462.27 L830.22,462.17 L830.57,463.22 L830.91,462.72 L831.25,463.15 L831.60,462.75 L831.94,463.34 L832.28,463.29 L832.63,463.02 L832.97,463.53 L833.31,463.38 L833.66,463.64 L834.00,463.17 L834.34,462.76 L834.69,462.29 L835.03,462.23 L835.37,462.43 L835.72,462.99 L836.06,462.91 L836.40,462.37 L836.75,462.22 L837.09,461.95 L837.43,462.25 L837.77,462.25 L838.12,462.03 L838.46,462.26 L838.80,461.91 L839.15,461.55 L839.49,461.64 L839.83,461.63 L840.18,462.63 L840.52,462.34 L840.86,462.70 L841.21,462.15 L841.55,462.11 L841.89,461.61 L842.24,460.59 L842.58,460.25 L842.92,460.02 L843.27,460.55 L843.61,460.94 L843.95,461.28 L844.30,461.81 L844.64,461.81 L844.98,460.99 L845.33,460.33 L845.67,460.58 L846.01,460.53 L846.36,460.88 L846.70,460.80 L847.04,461.75 L847.39,461.93 L847.73,461.98 L848.07,460.79 L848.42,460.41 L848.76,460.54 L849.10,461.34 L849.45,461.40 L849.79,461.72 L850.13,461.43 L850.48,460.94 L850.82,460.56 L851.16,460.42 L851.51,461.04 L851.85,461.82 L852.19,461.24 L852.54,460.57 L852.88,460.55 L853.22,460.77 L853.57,461.25 L853.91,460.48 L854.25,460.45 L854.60,460.59 L854.94,460.70 L855.28,460.76 L855.63,460.50 L855.97,461.04 L856.31,462.04 L856.66,462.30 L857.00,462.26 L857.34,461.05 L857.69,460.61 L858.03,459.86 L858.37,460.03 L858.72,460.11 L859.06,459.92 L859.40,459.98 L859.75,459.66 L860.09,459.87 L860.43,459.56 L860.78,459.49 L861.12,459.94 L861.46,459.62 L861.81,460.36 L862.15,460.29 L862.49,460.85 L862.83,460.29 L863.18,460.35 L863.52,459.89 L863.86,460.25 L864.21,459.62 L864.55,459.00 L864.89,458.48 L865.24,458.32 L865.58,458.74 L865.92,458.13 L866.27,458.59 L866.61,459.28 L866.95,459.33 L867.30,459.26 L867.64,459.02 L867.98,459.64 L868.33,460.10 L868.67,459.63 L869.01,459.52 L869.36,458.39 L869.70,457.98 L870.04,458.14 L870.39,459.19 L870.73,459.54 L871.07,459.65 L871.42,459.04 L871.76,458.81 L872.10,458.39 L872.45,458.44 L872.79,458.28 L873.13,457.52 L873.48,456.69 L873.82,456.77 L874.16,457.01 L874.51,457.73 L874.85,457.54 L875.19,458.26 L875.54,457.73 L875.88,458.52 L876.22,458.49 L876.57,458.84 L876.91,458.22 L877.25,458.37 L877.60,458.64 L877.94,458.80 L878.28,458.26 L878.63,458.42 L878.97,458.29 L879.31,458.44 L879.66,457.69 L880.00,457.63 L880.34,458.02 L880.69,459.29 L881.03,459.56 L881.37,458.48 L881.72,457.80 L882.06,457.69 L882.40,458.26 L882.75,458.83 L883.09,458.92 L883.43,458.73 L883.78,457.86 L884.12,458.68 L884.46,458.42 L884.81,458.78 L885.15,457.83 L885.49,458.03 L885.84,457.95 L886.18,458.30 L886.52,457.65 L886.86,457.48 L887.21,457.52 L887.55,458.34 L887.89,458.88 L888.24,458.03 L888.58,458.28 L888.92,458.09 L889.27,458.34 L889.61,457.27 L889.95,457.08 L890.30,456.97 L890.64,456.89 L890.98,456.40 L891.33,456.62 L891.67,456.19 L892.01,456.39 L892.36,455.85 L892.70,456.93 L893.04,456.68 L893.39,457.66 L893.73,457.86 L894.07,458.10 L894.42,457.93 L894.76,457.13 L895.10,457.58 L895.45,456.49 L895.79,456.55 L896.13,456.56 L896.48,456.82 L896.82,456.46 L897.16,456.01 L897.51,455.87 L897.85,455.47 L898.19,454.71 L898.54,454.94 L898.88,455.64 L899.22,455.66 L899.57,456.23 L899.91,456.97 L900.25,457.52 L900.60,457.30 L900.94,455.58 L901.28,455.00 L901.63,454.91 L901.97,455.99 L902.31,455.92 L902.66,455.58 L903.00,455.28 L903.34,455.51 L903.69,455.15 L904.03,454.92 L904.37,454.79 L904.72,454.16 L905.06,453.54 L905.40,454.26 L905.75,454.02 L906.09,454.79 L906.43,453.58 L906.78,454.76 L907.12,454.42 L907.46,454.61 L907.81,454.38 L908.15,454.06 L908.49,453.76 L908.84,453.99 L909.18,454.35 L909.52,454.16 L909.87,453.58 L910.21,453.56 L910.55,453.88 L910.89,454.05 L911.24,454.50 L911.58,454.96 L911.92,454.38 L912.27,454.11 L912.61,453.53 L912.95,454.28 L913.30,453.65 L913.64,452.91 L913.98,452.50 L914.33,452.79 L914.67,453.43 L915.01,452.60 L915.36,452.57 L915.70,452.80 L916.04,453.19 L916.39,453.39 L916.73,452.93 L917.07,453.38 L917.42,453.76 L917.76,454.14 L918.10,454.07 L918.45,453.88 L918.79,454.18 L919.13,453.52 L919.48,453.51 L919.82,453.24 L920.16,454.23 L920.51,453.72 L920.85,453.02 L921.19,452.67 L921.54,452.74 L921.88,453.68 L922.22,453.91 L922.57,454.41 L922.91,453.68 L923.25,453.34 L923.60,453.98 L923.94,452.71 L924.28,453.10 L924.63,452.03 L924.97,452.84 L925.31,452.19 L925.66,451.95 L926.00,453.33 L926.34,453.95 L926.69,453.74 L927.03,453.10 L927.37,453.08 L927.72,454.35 L928.06,453.37 L928.40,452.94 L928.75,452.35 L929.09,452.73 L929.43,452.92 L929.78,452.91 L930.12,452.67 L930.46,452.57 L930.81,451.94 L931.15,451.25 L931.49,451.23 L931.84,451.68 L932.18,451.86 L932.52,452.13 L932.87,452.45 L933.21,451.87 L933.55,451.72 L933.90,450.99 L934.24,451.38 L934.58,451.69 L934.92,451.47 L935.27,451.49 L935.61,450.76 L935.95,450.54 L936.30,450.87 L936.64,451.63 L936.98,451.71 L937.33,451.54 L937.67,450.38 L938.01,450.05 L938.36,449.91 L938.70,450.31 L939.04,449.70 L939.39,448.91 L939.73,448.78 L940.07,449.23 L940.42,449.66 L940.76,449.90 L941.10,449.57 L941.45,449.44 L941.79,449.51 L942.13,450.06 L942.48,450.79 L942.82,451.37 L943.16,451.02 L943.51,449.71 L943.85,448.67 L944.19,449.04 L944.54,450.41 L944.88,450.64 L945.22,450.23 L945.57,450.03 L945.91,449.99 L946.25,450.14 L946.60,449.29 L946.94,449.37 L947.28,449.04 L947.63,449.46 L947.97,450.06 L948.31,450.48 L948.66,450.72 L949.00,449.91 L949.34,450.13 L949.69,450.51 L950.03,450.30 L950.37,449.50 L950.72,448.31 L951.06,447.91 L951.40,449.06 L951.75,449.93 L952.09,450.70 L952.43,449.71 L952.78,450.29 L953.12,449.88 L953.46,449.63 L953.81,448.90 L954.15,448.70 L954.49,448.34 L954.84,447.91 L955.18,447.31 L955.52,447.61 L955.87,447.30 L956.21,447.62 L956.55,448.07 L956.90,447.77 L957.24,448.13 L957.58,448.29 L957.93,448.55 L958.27,448.69 L958.61,448.25 L958.95,447.93 L959.30,447.72 L959.64,447.83 L959.98,447.84 L960.33,447.54 L960.67,447.79 L961.01,448.79 L961.36,448.44 L961.70,447.67 L962.04,447.92 L962.39,449.11 L962.73,449.23 L963.07,448.54 L963.42,447.71 L963.76,447.59 L964.10,446.69 L964.45,447.45 L964.79,447.16 L965.13,446.41 L965.48,446.04 L965.82,445.82 L966.16,446.17 L966.51,445.52 L966.85,445.96 L967.19,446.99 L967.54,447.40 L967.88,446.84 L968.22,446.01 L968.57,444.99 L968.91,444.98 L969.25,445.28 L969.60,445.87 L969.94,446.75 L970.28,447.02 L970.63,446.48 L970.97,445.79 L971.31,446.60 L971.66,447.06 L972.00,447.67 L972.34,446.85 L972.69,447.10 L973.03,446.19 L973.37,445.96 L973.72,445.49 L974.06,444.80 L974.40,445.22 L974.75,446.26 L975.09,446.42 L975.43,445.09 L975.78,443.50 L976.12,443.91 L976.46,444.03 L976.81,444.30 L977.15,445.05 L977.49,445.12 L977.84,444.83 L978.18,444.34 L978.52,443.00 L978.87,443.78 L979.21,443.69 L979.55,443.97 L979.90,443.56 L980.24,443.62 L980.58,444.63 L980.93,444.54 L981.27,443.31 L981.61,442.87 L981.96,442.40 L982.30,443.23 L982.64,442.89 L982.98,442.84 L983.33,442.81 L983.67,443.28 L984.01,443.44 L984.36,442.29 L984.70,441.96 L985.04,442.07 L985.39,441.64 L985.73,441.70 L986.07,442.34 L986.42,442.80 L986.76,442.33 L987.10,441.79 L987.45,442.15 L987.79,442.59 L988.13,442.40 L988.48,442.48 L988.82,442.06 L989.16,442.60 L989.51,442.91 L989.85,443.25 L990.19,442.64 L990.54,441.72 L990.88,441.65 L991.22,441.69 L991.57,442.02 L991.91,442.18 L992.25,442.56 L992.60,442.99 L992.94,443.04 L993.28,442.50 L993.63,441.63 L993.97,440.90 L994.31,440.46 L994.66,439.83 L995.00,440.12 L995.90,420.10 L995.90,475.30 L997.10,471.50 L997.10,471.37 L997.98,470.62 L998.87,470.83 L999.75,470.09 L1000.63,470.24 L1001.52,470.20 L1002.40,469.76" fill="none" stroke="#f40000" stroke-width="2.0" stroke-linejoin="round"/>
<line x1="164.80" y1="286.60" x2="164.80" y2="498.80" stroke="#000" stroke-width="2.2" stroke-linecap="butt"/>
<line x1="163.70" y1="497.80" x2="363.20" y2="497.80" stroke="#000" stroke-width="2.2" stroke-linecap="butt"/>
<line x1="159.00" y1="287.60" x2="164.80" y2="287.60" stroke="#000" stroke-width="2.2" stroke-linecap="butt"/>
<text transform="translate(128.10,294.60) scale(1,1.04)" font-size="20.5" fill="#000" >1.0</text>
<line x1="159.00" y1="334.20" x2="164.80" y2="334.20" stroke="#000" stroke-width="2.2" stroke-linecap="butt"/>
<text transform="translate(128.19,341.20) scale(1,1.04)" font-size="20.5" fill="#000" >0.8</text>
<line x1="159.00" y1="380.80" x2="164.80" y2="380.80" stroke="#000" stroke-width="2.2" stroke-linecap="butt"/>
<text transform="translate(128.20,387.80) scale(1,1.04)" font-size="20.5" fill="#000" >0.6</text>
<line x1="159.00" y1="427.40" x2="164.80" y2="427.40" stroke="#000" stroke-width="2.2" stroke-linecap="butt"/>
<text transform="translate(127.90,434.40) scale(1,1.04)" font-size="20.5" fill="#000" >0.4</text>
<line x1="159.00" y1="474.00" x2="164.80" y2="474.00" stroke="#000" stroke-width="2.2" stroke-linecap="butt"/>
<text transform="translate(128.33,481.00) scale(1,1.04)" font-size="20.5" fill="#000" >0.2</text>
<text transform="translate(121.1,387.6) rotate(-90) scale(1,1.04)" text-anchor="middle" font-size="19.5" fill="#000">Absorbance (450 nm)</text>
<rect x="180.70" y="390.30" width="29.40" height="107.50" fill="#ffffff" stroke="#000000" stroke-width="3.0"/>
<rect x="225.70" y="358.80" width="30.50" height="139.00" fill="#d6d6d6" stroke="#a4a4a4" stroke-width="2.6"/>
<rect x="271.30" y="348.50" width="30.40" height="149.30" fill="#a4a4a4" stroke="#878787" stroke-width="2.6"/>
<rect x="317.40" y="357.20" width="30.00" height="140.60" fill="#7d7d7d" stroke="#2a2a2a" stroke-width="2.8"/>
<line x1="195.10" y1="497.80" x2="195.10" y2="503.60" stroke="#000" stroke-width="2.2" stroke-linecap="butt"/>
<line x1="240.20" y1="497.80" x2="240.20" y2="503.60" stroke="#000" stroke-width="2.2" stroke-linecap="butt"/>
<line x1="286.10" y1="497.80" x2="286.10" y2="503.60" stroke="#000" stroke-width="2.2" stroke-linecap="butt"/>
<line x1="332.00" y1="497.80" x2="332.00" y2="503.60" stroke="#000" stroke-width="2.2" stroke-linecap="butt"/>
<line x1="195.40" y1="381.40" x2="195.40" y2="396.00" stroke="#000" stroke-width="2.2" stroke-linecap="butt"/>
<line x1="188.40" y1="381.40" x2="202.40" y2="381.40" stroke="#000" stroke-width="2.2" stroke-linecap="butt"/>
<line x1="188.40" y1="396.00" x2="202.40" y2="396.00" stroke="#000" stroke-width="2.2" stroke-linecap="butt"/>
<line x1="240.50" y1="350.60" x2="240.50" y2="364.60" stroke="#555" stroke-width="2.0" stroke-linecap="butt"/>
<line x1="233.50" y1="350.60" x2="247.50" y2="350.60" stroke="#555" stroke-width="2.0" stroke-linecap="butt"/>
<line x1="233.50" y1="364.60" x2="247.50" y2="364.60" stroke="#555" stroke-width="2.0" stroke-linecap="butt"/>
<line x1="286.80" y1="328.80" x2="286.80" y2="365.50" stroke="#444" stroke-width="2.2" stroke-linecap="butt"/>
<line x1="279.80" y1="328.80" x2="293.80" y2="328.80" stroke="#444" stroke-width="2.2" stroke-linecap="butt"/>
<line x1="279.80" y1="365.50" x2="293.80" y2="365.50" stroke="#444" stroke-width="2.2" stroke-linecap="butt"/>
<line x1="332.00" y1="340.30" x2="332.00" y2="373.50" stroke="#222" stroke-width="2.2" stroke-linecap="butt"/>
<line x1="325.00" y1="340.30" x2="339.00" y2="340.30" stroke="#222" stroke-width="2.2" stroke-linecap="butt"/>
<line x1="325.00" y1="373.50" x2="339.00" y2="373.50" stroke="#222" stroke-width="2.2" stroke-linecap="butt"/>
<circle cx="189.0" cy="383.5" r="4.0" fill="#000"/>
<circle cx="201.8" cy="383.5" r="4.0" fill="#000"/>
<circle cx="189.0" cy="399.0" r="4.0" fill="#000"/>
<circle cx="201.8" cy="394.6" r="4.0" fill="#000"/>
<rect x="236.8" y="344.1" width="8.4" height="8.4" fill="#000"/>
<rect x="227.10000000000002" y="355.1" width="8.4" height="8.4" fill="#000"/>
<rect x="245.5" y="355.1" width="8.4" height="8.4" fill="#000"/>
<rect x="235.8" y="362.40000000000003" width="8.4" height="8.4" fill="#000"/>
<path d="M286.5,317.41 L290.90,325.06 L282.10,325.06Z" fill="#000"/>
<path d="M286.5,343.21 L290.90,350.86 L282.10,350.86Z" fill="#000"/>
<path d="M279.7,359.01 L284.10,366.66 L275.30,366.66Z" fill="#000"/>
<path d="M292.9,359.01 L297.30,366.66 L288.50,366.66Z" fill="#000"/>
<circle cx="332.0" cy="330.5" r="4.0" fill="#000"/>
<circle cx="325.1" cy="357.0" r="4.0" fill="#000"/>
<circle cx="345.0" cy="357.0" r="4.0" fill="#000"/>
<circle cx="338.1" cy="366.1" r="4.0" fill="#000"/>
<circle cx="325.8" cy="373.8" r="4.0" fill="#000"/>
<line x1="193.20" y1="288.30" x2="333.70" y2="288.30" stroke="#000" stroke-width="2.2" stroke-linecap="butt"/>
<line x1="190.70" y1="312.30" x2="293.20" y2="312.30" stroke="#000" stroke-width="2.2" stroke-linecap="butt"/>
<line x1="190.00" y1="335.40" x2="238.10" y2="335.40" stroke="#000" stroke-width="2.2" stroke-linecap="butt"/>
<text transform="translate(226.80,284.70) scale(1,1.04)" font-size="17.1" fill="#000" >P = 0.0093</text>
<text transform="translate(204.40,309.10) scale(1,1.04)" font-size="17.1" fill="#000" >P = 0.0027</text>
<text transform="translate(170.80,332.60) scale(1,1.04)" font-size="17.1" fill="#000" >P = 0.0192</text>
<text transform="translate(195.5,516.5) rotate(-30) scale(1,1.04)" text-anchor="end" font-size="19.5" fill="#000">Vehicle</text>
<text transform="translate(242.2,516.8) rotate(-30) scale(1,1.04)" text-anchor="end" font-size="19.5" fill="#000">TMP</text>
<text transform="translate(289.3,516.3) rotate(-30) scale(1,1.04)" text-anchor="end" font-size="19.5" fill="#000">Spadin</text>
<text transform="translate(335.5,514.0) rotate(-30) scale(1,1.04)" text-anchor="end" font-size="19.5" fill="#000">TMP_Spadin</text>
</svg></body></html>
